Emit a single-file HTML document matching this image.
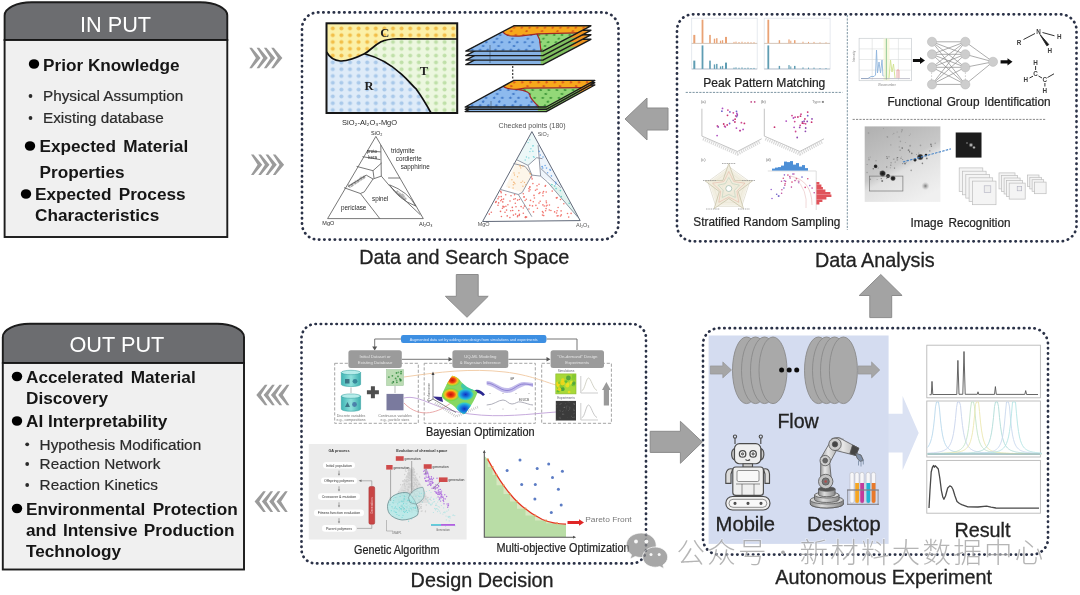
<!DOCTYPE html>
<html><head><meta charset="utf-8">
<style>
html,body{margin:0;padding:0;background:#fff;}
body{width:1080px;height:595px;overflow:hidden;font-family:"Liberation Sans",sans-serif;}
svg{display:block;font-family:"Liberation Sans",sans-serif;}
.b{font-weight:bold;fill:#141414;font-size:17.2px;}
.s{fill:#2a2a2a;font-size:15.3px;stroke:#2a2a2a;stroke-width:0.2px;}
.lab{fill:#222;font-size:19.8px;stroke:#222;stroke-width:0.3px;}
.sub{fill:#242424;font-size:12px;stroke:#242424;stroke-width:0.22px;}
.dot{fill:none;stroke:#2a3046;stroke-width:2.7;stroke-linecap:round;}
.ga{fill:#a3a3a3;stroke:#8c8c8c;stroke-width:1;}
</style></head><body>
<svg width="1080" height="595" viewBox="0 0 1080 595">
<defs>
<filter id="b3" x="-5%" y="-5%" width="110%" height="110%"><feGaussianBlur stdDeviation="0.35"/></filter>
<filter id="b6" x="-5%" y="-5%" width="110%" height="110%"><feGaussianBlur stdDeviation="0.7"/></filter>
<filter id="b9" x="-5%" y="-5%" width="110%" height="110%"><feGaussianBlur stdDeviation="0.9"/></filter>
</defs>
<rect width="1080" height="595" fill="#fff"/>
<g id="input" filter="url(#b3)">
<path d="M4.6,40 V15.5 A27,13.2 0 0 1 31.6,2.3 H200.3 A27,13.2 0 0 1 227.3,15.5 V40 Z" fill="#6c6d70" stroke="#1a1a1a" stroke-width="1.9"/>
<rect x="4.6" y="40" width="222.7" height="197" fill="#f0f0f0" stroke="#1a1a1a" stroke-width="1.9"/>
<text x="115.5" y="32.3" text-anchor="middle" font-size="21.7" fill="#fff">IN PUT</text>
<ellipse cx="34" cy="64" rx="5.2" ry="4.8" fill="#000"/>
<text class="b" x="43" y="70.6">Prior Knowledge</text>
<circle cx="30.5" cy="96" r="1.9" fill="#2a2a2a"/>
<text class="s" x="43" y="101.2">Physical Assumption</text>
<circle cx="30.5" cy="118" r="1.9" fill="#2a2a2a"/>
<text class="s" x="43" y="123.4">Existing database</text>
<ellipse cx="30" cy="146" rx="5.2" ry="4.8" fill="#000"/>
<text class="b" x="39.5" y="152.3" word-spacing="2.5">Expected Material</text>
<text class="b" x="39.5" y="177.5">Properties</text>
<ellipse cx="26" cy="194" rx="5.2" ry="4.8" fill="#000"/>
<text class="b" x="35" y="200.2" word-spacing="2.5">Expected Process</text>
<text class="b" x="35" y="220.8">Characteristics</text>
</g>
<g id="output" filter="url(#b3)">
<path d="M2.8,363 V337 A27,13.2 0 0 1 29.8,323.8 H217 A27,13.2 0 0 1 244,337 V363 Z" fill="#6c6d70" stroke="#1a1a1a" stroke-width="1.9"/>
<rect x="2.8" y="363" width="241.2" height="206.5" fill="#f0f0f0" stroke="#1a1a1a" stroke-width="1.9"/>
<text x="116.9" y="351.8" text-anchor="middle" font-size="21.7" fill="#fff">OUT PUT</text>
<ellipse cx="17" cy="376.5" rx="5.2" ry="4.8" fill="#000"/>
<text class="b" x="26" y="382.6" word-spacing="2.5">Accelerated Material</text>
<text class="b" x="26" y="403.8">Discovery</text>
<ellipse cx="17" cy="421" rx="5.2" ry="4.8" fill="#000"/>
<text class="b" x="26" y="427.2">AI Interpretability</text>
<circle cx="27.2" cy="444.3" r="1.9" fill="#2a2a2a"/>
<text class="s" x="39.6" y="449.5">Hypothesis Modification</text>
<circle cx="27.2" cy="464" r="1.9" fill="#2a2a2a"/>
<text class="s" x="39.6" y="469.2">Reaction Network</text>
<circle cx="27.2" cy="485" r="1.9" fill="#2a2a2a"/>
<text class="s" x="39.6" y="490.2">Reaction Kinetics</text>
<ellipse cx="17" cy="508.5" rx="5.2" ry="4.8" fill="#000"/>
<text class="b" x="26" y="514.6" word-spacing="2.5">Environmental Protection</text>
<text class="b" x="26" y="535.8" word-spacing="1.6">and Intensive Production</text>
<text class="b" x="26" y="557.2">Technology</text>
</g>
<g fill="#9b9b9b" filter="url(#b3)"><polygon points="249.3,47.7 251.9,47.7 260.5,58.0 251.9,68.3 249.3,68.3 255.9,58.0"/><polygon points="256.6,47.7 259.2,47.7 267.8,58.0 259.2,68.3 256.6,68.3 263.2,58.0"/><polygon points="263.9,47.7 266.5,47.7 275.1,58.0 266.5,68.3 263.9,68.3 270.5,58.0"/><polygon points="271.2,47.7 273.8,47.7 282.4,58.0 273.8,68.3 271.2,68.3 277.8,58.0"/></g><g fill="#9b9b9b" filter="url(#b3)"><polygon points="251.0,154.5 253.6,154.5 262.2,164.8 253.6,175.1 251.0,175.1 257.6,164.8"/><polygon points="258.3,154.5 260.9,154.5 269.5,164.8 260.9,175.1 258.3,175.1 264.9,164.8"/><polygon points="265.6,154.5 268.2,154.5 276.8,164.8 268.2,175.1 265.6,175.1 272.2,164.8"/><polygon points="272.9,154.5 275.5,154.5 284.1,164.8 275.5,175.1 272.9,175.1 279.5,164.8"/></g><g fill="#9b9b9b" filter="url(#b3)"><polygon points="264.9,384.7 267.5,384.7 260.9,395.0 267.5,405.3 264.9,405.3 256.3,395.0"/><polygon points="272.2,384.7 274.8,384.7 268.2,395.0 274.8,405.3 272.2,405.3 263.6,395.0"/><polygon points="279.5,384.7 282.1,384.7 275.5,395.0 282.1,405.3 279.5,405.3 270.9,395.0"/><polygon points="286.8,384.7 289.4,384.7 282.8,395.0 289.4,405.3 286.8,405.3 278.2,395.0"/></g><g fill="#9b9b9b" filter="url(#b3)"><polygon points="263.2,491.3 265.8,491.3 259.2,501.6 265.8,511.9 263.2,511.9 254.6,501.6"/><polygon points="270.5,491.3 273.1,491.3 266.5,501.6 273.1,511.9 270.5,511.9 261.9,501.6"/><polygon points="277.8,491.3 280.4,491.3 273.8,501.6 280.4,511.9 277.8,511.9 269.2,501.6"/><polygon points="285.1,491.3 287.7,491.3 281.1,501.6 287.7,511.9 285.1,511.9 276.5,501.6"/></g><rect class="dot" x="302" y="12.4" width="316.5" height="227.2" rx="16" pathLength="1000" filter="url(#b3)" style="stroke-dasharray:0.3300 4.6205"/>
<rect class="dot" x="677" y="14.3" width="399.5" height="227" rx="16" pathLength="1000" filter="url(#b3)" style="stroke-dasharray:0.2861 4.0057"/>
<rect class="dot" x="301.5" y="324" width="344.5" height="239.4" rx="14" pathLength="1000" filter="url(#b3)" style="stroke-dasharray:0.3058 4.2813"/>
<g class="ga" filter="url(#b3)">
<polygon points="625,119 647,98 647,108 668,108 668,130 647,130 647,140"/>
<polygon points="456.3,274.5 478.2,274.5 478.2,296.3 488.2,296.3 467,317.3 445.4,296.3 456.3,296.3"/>
<polygon points="650.2,431.3 680.4,431.3 680.4,421.3 702.3,442 680.4,463.3 680.4,452.4 650.2,452.4"/>
<polygon points="880.8,274.5 902.1,295.5 891.7,295.5 891.7,317.6 869.8,317.6 869.8,295.5 859.2,295.5"/>
</g>
<g filter="url(#b3)">
<text class="lab" x="359.3" y="263.5">Data and Search Space</text>
<text class="lab" x="814.9" y="267.4">Data Analysis</text>
<text class="lab" x="410.6" y="586.5">Design Decision</text>
</g>
<defs>
<pattern id="pdY" width="8.6" height="6.8" patternUnits="userSpaceOnUse" x="328.5" y="25"><rect width="8.6" height="6.8" fill="#fbf0a8"/><circle cx="4.3" cy="3.4" r="2" fill="#f2bf4a"/></pattern>
<pattern id="pdB" width="8.6" height="6.8" patternUnits="userSpaceOnUse" x="328.5" y="25"><rect width="8.6" height="6.8" fill="#deebf8"/><circle cx="4.3" cy="3.4" r="2" fill="#a9c9ea"/></pattern>
<pattern id="pdG" width="8.6" height="6.8" patternUnits="userSpaceOnUse" x="328.5" y="25"><rect width="8.6" height="6.8" fill="#ecf7df"/><circle cx="4.3" cy="3.4" r="2" fill="#bfe0a8"/></pattern>
<pattern id="lyB" width="20" height="29" patternUnits="userSpaceOnUse"><rect width="20" height="29" fill="#8dbaee"/><circle r="1.15" transform="matrix(1.297,0,2.461,3.953,5,7.2)" fill="#3f78c8"/><circle r="1.15" transform="matrix(1.297,0,2.461,3.953,15,7.2)" fill="#3f78c8"/><circle r="1.15" transform="matrix(1.297,0,2.461,3.953,10,21.7)" fill="#3f78c8"/></pattern>
<pattern id="lyG" width="20" height="29" patternUnits="userSpaceOnUse"><rect width="20" height="29" fill="#93d878"/><circle r="1.1" transform="matrix(1.297,0,2.461,3.953,5,7.2)" fill="#3a9436"/><circle r="1.1" transform="matrix(1.297,0,2.461,3.953,15,7.2)" fill="#3a9436"/><circle r="1.1" transform="matrix(1.297,0,2.461,3.953,10,21.7)" fill="#3a9436"/></pattern>
<pattern id="lyO" width="20" height="29" patternUnits="userSpaceOnUse"><rect width="20" height="29" fill="#f7a81c"/><circle r="1.1" transform="matrix(1.297,0,2.461,3.953,5,7.2)" fill="#d9541a"/><circle r="1.1" transform="matrix(1.297,0,2.461,3.953,15,7.2)" fill="#d9541a"/><circle r="1.1" transform="matrix(1.297,0,2.461,3.953,10,21.7)" fill="#d9541a"/></pattern>
<clipPath id="cY"><path d="M0,0 H100 V17.5 L54.5,17.2 C46,17.5 44,19 41.7,20.6 C36,25 33,31 29,34 C22,39 15,42.5 10.5,42 C5,41.5 2,37 0,32 Z" transform="translate(326.5,23.3) scale(1.307,0.897)"/></clipPath><clipPath id="cB"><path d="M0,32 C2,37 5,41.5 10.5,42 C15,42.5 22,39 29,34 C40,38 50,47 57.3,56.7 C63,64 66,70 68.6,73.2 C73,82 77,92 80,100 H0 Z" transform="translate(326.5,23.3) scale(1.307,0.897)"/></clipPath></defs>
<g filter="url(#b6)"><rect x="326.5" y="23.3" width="130.7" height="89.7" fill="url(#pdG)"/><rect x="326.5" y="23.3" width="130.7" height="89.7" fill="url(#pdY)" clip-path="url(#cY)"/><rect x="326.5" y="23.3" width="130.7" height="89.7" fill="url(#pdB)" clip-path="url(#cB)"/><g transform="translate(326.5,23.3) scale(1.307,0.897)" fill="none" stroke="#111" stroke-linejoin="round"><path d="M0,32 C2,37 5,41.5 10.5,42 C15,42.5 22,39 29,34 C33,31 36,25 41.7,20.6 C44,19 46,17.5 54.5,17.2 L100,17.5" stroke-width="1.7" vector-effect="non-scaling-stroke"/><path d="M29,34 C40,38 50,47 57.3,56.7 C63,64 66,70 68.6,73.2 C73,82 77,92 80,100" stroke-width="1.7" vector-effect="non-scaling-stroke"/></g><rect x="326.5" y="23.3" width="130.7" height="89.7" fill="none" stroke="#151515" stroke-width="2"/><g font-family="Liberation Serif,serif" font-weight="bold" font-size="12.5" fill="#222" text-anchor="middle"><text x="384.7" y="37.2">C</text><text x="424" y="74.8">T</text><text x="369" y="89.6">R</text></g></g>
<g filter="url(#b6)"><g transform="matrix(0.7710,0,-0.4800,0.2530,513.80,39.30)"><rect width="100" height="100" fill="#7fbf5e"/><path d="M0,0 H100 V28 L50,32 C42,36 36,41 29.7,41 C24,41 19,40 16.4,38.5 C10,34 4,28 0,23 Z" fill="#ee9420"/><path d="M0,23 C4,28 10,34 16.4,38.5 C19,40 24,41 29.7,41 C36,41 42,36 50,32 L67,54 L97.5,100 H0 Z" fill="#86b2e4"/><rect width="100" height="100" fill="none" stroke="#1a1a1a" stroke-width="1.4" vector-effect="non-scaling-stroke" stroke-linejoin="round"/></g><g transform="matrix(0.7710,0,-0.4800,0.2530,513.80,34.80)"><rect width="100" height="100" fill="#7fbf5e"/><path d="M0,0 H100 V28 L50,32 C42,36 36,41 29.7,41 C24,41 19,40 16.4,38.5 C10,34 4,28 0,23 Z" fill="#ee9420"/><path d="M0,23 C4,28 10,34 16.4,38.5 C19,40 24,41 29.7,41 C36,41 42,36 50,32 L67,54 L97.5,100 H0 Z" fill="#86b2e4"/><rect width="100" height="100" fill="none" stroke="#1a1a1a" stroke-width="1.4" vector-effect="non-scaling-stroke" stroke-linejoin="round"/></g><g transform="matrix(0.7710,0,-0.4800,0.2530,513.80,30.30)"><rect width="100" height="100" fill="#7fbf5e"/><path d="M0,0 H100 V28 L50,32 C42,36 36,41 29.7,41 C24,41 19,40 16.4,38.5 C10,34 4,28 0,23 Z" fill="#ee9420"/><path d="M0,23 C4,28 10,34 16.4,38.5 C19,40 24,41 29.7,41 C36,41 42,36 50,32 L67,54 L97.5,100 H0 Z" fill="#86b2e4"/><rect width="100" height="100" fill="none" stroke="#1a1a1a" stroke-width="1.4" vector-effect="non-scaling-stroke" stroke-linejoin="round"/></g><g transform="matrix(0.7710,0,-0.4800,0.2530,513.80,25.80)"><rect width="100" height="100" fill="url(#lyG)"/><path d="M0,0 H100 V28 L50,32 C42,36 36,41 29.7,41 C24,41 19,40 16.4,38.5 C10,34 4,28 0,23 Z" fill="url(#lyO)"/><path d="M0,23 C4,28 10,34 16.4,38.5 C19,40 24,41 29.7,41 C36,41 42,36 50,32 L67,54 L97.5,100 H0 Z" fill="url(#lyB)"/><path d="M0,23 C4,28 10,34 16.4,38.5 C19,40 24,41 29.7,41 C36,41 42,36 50,32 L67,54 L97.5,100 M50,32 L100,28" fill="none" stroke="#a02828" stroke-width="1.2" vector-effect="non-scaling-stroke"/><rect width="100" height="100" fill="none" stroke="#1a1a1a" stroke-width="1.4" vector-effect="non-scaling-stroke" stroke-linejoin="round"/></g><line x1="512.7" y1="66" x2="512.7" y2="80" stroke="#333" stroke-width="1.2" stroke-dasharray="2 1.5"/><g transform="matrix(0.8100,0,-0.4860,0.2660,513.80,85.00)"><rect width="100" height="100" fill="#7fbf5e"/><path d="M0,0 H100 V27 L31,29 C28,31 26,33 24.4,34 C16,34 8,30 0,22 Z" fill="#ee9420"/><path d="M0,22 C8,30 16,34 24.4,34 C38,38 50,48 55,58.5 C65,72 80,88 91,100 H0 Z" fill="#86b2e4"/><rect width="100" height="100" fill="none" stroke="#1a1a1a" stroke-width="1.4" vector-effect="non-scaling-stroke" stroke-linejoin="round"/></g><g transform="matrix(0.8100,0,-0.4860,0.2660,513.80,82.70)"><rect width="100" height="100" fill="#7fbf5e"/><path d="M0,0 H100 V27 L31,29 C28,31 26,33 24.4,34 C16,34 8,30 0,22 Z" fill="#ee9420"/><path d="M0,22 C8,30 16,34 24.4,34 C38,38 50,48 55,58.5 C65,72 80,88 91,100 H0 Z" fill="#86b2e4"/><rect width="100" height="100" fill="none" stroke="#1a1a1a" stroke-width="1.4" vector-effect="non-scaling-stroke" stroke-linejoin="round"/></g><g transform="matrix(0.8100,0,-0.4860,0.2660,513.80,80.40)"><rect width="100" height="100" fill="url(#lyG)"/><path d="M0,0 H100 V27 L31,29 C28,31 26,33 24.4,34 C16,34 8,30 0,22 Z" fill="url(#lyO)"/><path d="M0,22 C8,30 16,34 24.4,34 C38,38 50,48 55,58.5 C65,72 80,88 91,100 H0 Z" fill="url(#lyB)"/><path d="M0,22 C8,30 16,34 24.4,34 C38,38 50,48 55,58.5 C65,72 80,88 91,100 M24.4,34 L31,29 L100,27" fill="none" stroke="#a02828" stroke-width="1.2" vector-effect="non-scaling-stroke"/><rect width="100" height="100" fill="none" stroke="#1a1a1a" stroke-width="1.4" vector-effect="non-scaling-stroke" stroke-linejoin="round"/></g><path d="M490,45 V63 M491,101 V110" stroke="#234" stroke-width="0.8" opacity="0.6"/></g>
<g filter="url(#b6)" fill="none" stroke="#555" stroke-width="0.8"><path d="M375.9,136.4 L327.6,218.6 L423.3,218.6 Z"/><path d="M344.0,187.7 L360.4,193.5 L379.8,218.6"/><path d="M360.4,193.5 L364.3,191.9 L373.0,179.0 L366.2,175.1 L347.9,186.7"/><path d="M356.6,166.4 L373.0,170.7 L381.7,162.9"/><path d="M362.4,156.7 L380.4,159.6"/><path d="M380.8,145.1 L381.3,176.1"/><path d="M373.0,179.0 L381.3,176.1 L389.5,185.8 L420.4,214.8"/><path d="M388.1,178.0 L400.1,178.0"/><path d="M373.0,170.7 L374.0,178.0"/><path d="M367.2,150.9 L380.8,151.9"/><path d="M389.5,184.8 Q407.8,191.6 415.9,206.1 Q398.2,199.3 389.5,184.8"/></g><g filter="url(#b6)" font-size="6.3" fill="#2a2a2a"><text x="342.1" y="125.4" font-size="7.3" textLength="55.0" lengthAdjust="spacingAndGlyphs" text-anchor="start">SiO₂-Al₂O₃-MgO</text><text x="371.1" y="135.1" font-size="5.5" text-anchor="start">SiO₂</text><text x="391.0" y="153.3" text-anchor="start">tridymite</text><text x="395.8" y="161.0" text-anchor="start">cordierite</text><text x="400.7" y="168.7" text-anchor="start">sapphirine</text><text x="372.0" y="200.6" text-anchor="start">spinel</text><text x="341.1" y="209.9" text-anchor="start">periclase</text><text x="366.8" y="152.5" font-size="4.5" text-anchor="start">proto</text><text x="368.2" y="158.7" font-size="4.5" text-anchor="start">kera</text><text x="322.3" y="225.4" font-size="5.5" text-anchor="start">MgO</text><text x="419.0" y="226.0" font-size="5.5" text-anchor="start">Al₂O₃</text></g>
<text transform="translate(349.8,188.1) rotate(-33)" font-size="5" fill="#444" filter="url(#b6)">forsterite</text><text transform="translate(395.3,192.5) rotate(40)" font-size="4.5" fill="#555" filter="url(#b6)">mullite</text><g filter="url(#b6)"><path d="M531.9,131.6 L516.4,159.6 L528.0,165.4 L536.7,157.7 L538.1,145.1 Z" fill="#ecf8f8"/><path d="M531.9,131.6 L538.1,145.1 L540.6,176.1 L560.9,187.7 L580.2,220.6 Z" fill="#eef4fb"/><path d="M547.4,181.9 L560.9,187.7 L580.2,220.6 L570.6,209.0 Z" fill="#e0f3ef"/><path d="M516.4,161.6 L528.0,167.4 L531.9,175.1 L522.2,192.5 L505.8,186.7 Z" fill="#fdf6ea"/><g fill="none" stroke="#7a8090" stroke-width="0.8"><path d="M531.9,131.6 L482.6,221.5 L580.2,220.6 Z" stroke="#606878" stroke-width="1"/><path d="M500.9,189.6 L518.3,194.5 L531.9,216.7"/><path d="M518.3,194.5 L522.2,192.5 L531.9,175.1 L525.1,166.4 L513.5,163.5"/><path d="M516.4,159.6 L528.0,165.4 L536.7,157.7 L542.5,158.7"/><path d="M538.1,145.1 L540.6,176.1"/><path d="M531.9,175.1 L540.6,176.1 L547.4,181.9 L578.3,217.7"/><path d="M528.0,165.4 L531.9,175.1"/><path d="M540.6,168.3 L560.9,187.7"/></g><g fill="#e8403a" opacity="0.75"><circle cx="498.0" cy="205.3" r="0.8"/><circle cx="503.9" cy="206.9" r="0.8"/><circle cx="498.9" cy="196.9" r="0.8"/><circle cx="515.6" cy="214.1" r="0.8"/><circle cx="510.7" cy="210.7" r="0.8"/><circle cx="521.1" cy="206.6" r="0.8"/><circle cx="500.8" cy="191.4" r="0.8"/><circle cx="519.4" cy="214.4" r="0.8"/><circle cx="519.2" cy="215.5" r="0.8"/><circle cx="505.0" cy="212.3" r="0.8"/><circle cx="507.2" cy="215.9" r="0.8"/><circle cx="515.3" cy="198.7" r="0.8"/><circle cx="510.0" cy="201.0" r="0.8"/><circle cx="503.0" cy="206.4" r="0.8"/><circle cx="513.4" cy="215.1" r="0.8"/><circle cx="517.7" cy="215.7" r="0.8"/><circle cx="525.5" cy="217.4" r="0.8"/><circle cx="525.7" cy="216.7" r="0.8"/><circle cx="524.4" cy="206.1" r="0.8"/><circle cx="525.4" cy="217.4" r="0.8"/><circle cx="491.3" cy="212.3" r="0.8"/><circle cx="505.7" cy="194.7" r="0.8"/><circle cx="500.5" cy="211.4" r="0.8"/><circle cx="519.4" cy="199.5" r="0.8"/><circle cx="526.6" cy="217.1" r="0.8"/><circle cx="509.9" cy="217.6" r="0.8"/><circle cx="501.2" cy="192.7" r="0.8"/><circle cx="496.2" cy="201.6" r="0.8"/><circle cx="514.6" cy="194.8" r="0.8"/><circle cx="489.3" cy="214.1" r="0.8"/><circle cx="501.4" cy="216.5" r="0.8"/><circle cx="507.9" cy="204.7" r="0.8"/><circle cx="516.0" cy="206.7" r="0.8"/><circle cx="512.3" cy="207.4" r="0.8"/><circle cx="506.6" cy="210.1" r="0.8"/><circle cx="498.0" cy="198.7" r="0.8"/><circle cx="505.9" cy="206.3" r="0.8"/><circle cx="515.3" cy="203.2" r="0.8"/><circle cx="517.6" cy="200.1" r="0.8"/><circle cx="518.8" cy="210.6" r="0.8"/><circle cx="517.5" cy="216.7" r="0.8"/><circle cx="498.6" cy="202.9" r="0.8"/><circle cx="513.8" cy="199.3" r="0.8"/><circle cx="503.6" cy="199.1" r="0.8"/><circle cx="503.8" cy="206.7" r="0.8"/><circle cx="500.8" cy="200.8" r="0.8"/><circle cx="512.7" cy="210.5" r="0.8"/><circle cx="501.2" cy="196.6" r="0.8"/><circle cx="495.7" cy="202.4" r="0.8"/><circle cx="501.7" cy="199.6" r="0.8"/><circle cx="502.4" cy="208.2" r="0.8"/><circle cx="511.0" cy="195.8" r="0.8"/><circle cx="523.3" cy="213.3" r="0.8"/><circle cx="523.3" cy="208.0" r="0.8"/><circle cx="502.8" cy="201.9" r="0.8"/></g><g fill="#ee4a40" opacity="0.75"><circle cx="542.9" cy="193.1" r="0.8"/><circle cx="568.7" cy="217.1" r="0.8"/><circle cx="543.7" cy="215.6" r="0.8"/><circle cx="561.1" cy="210.9" r="0.8"/><circle cx="556.5" cy="197.7" r="0.8"/><circle cx="535.5" cy="190.3" r="0.8"/><circle cx="532.1" cy="178.9" r="0.8"/><circle cx="571.1" cy="213.4" r="0.8"/><circle cx="528.9" cy="188.6" r="0.8"/><circle cx="556.5" cy="197.9" r="0.8"/><circle cx="542.5" cy="215.1" r="0.8"/><circle cx="533.5" cy="211.9" r="0.8"/><circle cx="546.1" cy="208.6" r="0.8"/><circle cx="539.0" cy="184.3" r="0.8"/><circle cx="549.3" cy="210.0" r="0.8"/><circle cx="528.9" cy="209.0" r="0.8"/><circle cx="554.6" cy="211.9" r="0.8"/><circle cx="534.4" cy="198.0" r="0.8"/><circle cx="543.0" cy="195.7" r="0.8"/><circle cx="524.1" cy="197.0" r="0.8"/><circle cx="537.0" cy="189.2" r="0.8"/><circle cx="539.0" cy="203.0" r="0.8"/><circle cx="552.2" cy="191.1" r="0.8"/><circle cx="530.0" cy="189.8" r="0.8"/><circle cx="526.3" cy="199.2" r="0.8"/><circle cx="540.2" cy="201.2" r="0.8"/><circle cx="543.5" cy="191.6" r="0.8"/><circle cx="547.1" cy="205.3" r="0.8"/><circle cx="542.9" cy="204.9" r="0.8"/><circle cx="545.2" cy="186.3" r="0.8"/><circle cx="549.4" cy="205.0" r="0.8"/><circle cx="523.3" cy="193.7" r="0.8"/><circle cx="543.2" cy="212.7" r="0.8"/><circle cx="534.0" cy="195.4" r="0.8"/><circle cx="556.5" cy="213.0" r="0.8"/><circle cx="563.8" cy="203.8" r="0.8"/><circle cx="560.5" cy="199.5" r="0.8"/><circle cx="525.1" cy="200.5" r="0.8"/><circle cx="557.1" cy="210.8" r="0.8"/><circle cx="561.3" cy="214.9" r="0.8"/><circle cx="550.9" cy="210.5" r="0.8"/><circle cx="532.9" cy="183.6" r="0.8"/><circle cx="533.3" cy="201.7" r="0.8"/><circle cx="539.9" cy="192.6" r="0.8"/><circle cx="539.0" cy="193.5" r="0.8"/><circle cx="524.0" cy="196.9" r="0.8"/><circle cx="558.1" cy="207.5" r="0.8"/><circle cx="557.1" cy="197.6" r="0.8"/><circle cx="546.4" cy="202.8" r="0.8"/><circle cx="544.2" cy="206.0" r="0.8"/><circle cx="529.8" cy="187.2" r="0.8"/><circle cx="530.5" cy="200.4" r="0.8"/><circle cx="537.0" cy="185.7" r="0.8"/><circle cx="558.1" cy="215.7" r="0.8"/><circle cx="535.9" cy="205.4" r="0.8"/><circle cx="542.5" cy="211.6" r="0.8"/><circle cx="531.5" cy="177.0" r="0.8"/><circle cx="546.2" cy="192.0" r="0.8"/><circle cx="529.0" cy="191.1" r="0.8"/><circle cx="537.4" cy="208.3" r="0.8"/><circle cx="546.2" cy="201.0" r="0.8"/><circle cx="545.6" cy="210.8" r="0.8"/><circle cx="546.3" cy="206.0" r="0.8"/><circle cx="560.5" cy="216.0" r="0.8"/><circle cx="545.5" cy="185.6" r="0.8"/><circle cx="532.5" cy="205.9" r="0.8"/><circle cx="557.2" cy="215.9" r="0.8"/><circle cx="529.9" cy="186.8" r="0.8"/><circle cx="529.8" cy="205.4" r="0.8"/><circle cx="567.5" cy="213.5" r="0.8"/></g><g fill="#f0a050" opacity="0.70"><circle cx="513.1" cy="188.0" r="0.7"/><circle cx="514.5" cy="175.0" r="0.7"/><circle cx="509.0" cy="187.1" r="0.7"/><circle cx="514.0" cy="173.0" r="0.7"/><circle cx="521.1" cy="182.4" r="0.7"/><circle cx="517.5" cy="176.8" r="0.7"/><circle cx="511.9" cy="179.7" r="0.7"/><circle cx="530.4" cy="174.0" r="0.7"/><circle cx="520.2" cy="166.0" r="0.7"/><circle cx="513.5" cy="182.1" r="0.7"/><circle cx="530.0" cy="173.5" r="0.7"/><circle cx="525.9" cy="184.8" r="0.7"/><circle cx="514.1" cy="182.4" r="0.7"/><circle cx="522.9" cy="186.2" r="0.7"/><circle cx="513.3" cy="184.7" r="0.7"/><circle cx="520.0" cy="165.9" r="0.7"/><circle cx="519.0" cy="172.9" r="0.7"/><circle cx="524.5" cy="182.5" r="0.7"/><circle cx="520.8" cy="167.9" r="0.7"/><circle cx="522.7" cy="181.1" r="0.7"/><circle cx="523.0" cy="166.2" r="0.7"/><circle cx="514.9" cy="183.7" r="0.7"/></g><g fill="#50c8d0" opacity="0.70"><circle cx="529.9" cy="151.6" r="0.7"/><circle cx="530.9" cy="148.7" r="0.7"/><circle cx="532.9" cy="151.2" r="0.7"/><circle cx="532.7" cy="145.9" r="0.7"/><circle cx="528.1" cy="142.6" r="0.7"/><circle cx="533.2" cy="145.7" r="0.7"/><circle cx="528.8" cy="157.9" r="0.7"/><circle cx="525.2" cy="160.0" r="0.7"/><circle cx="533.4" cy="156.6" r="0.7"/><circle cx="526.4" cy="157.0" r="0.7"/><circle cx="534.1" cy="157.2" r="0.7"/><circle cx="529.8" cy="139.7" r="0.7"/></g><g fill="#4a90e0" opacity="0.75"><circle cx="549.9" cy="169.6" r="0.8"/><circle cx="543.0" cy="157.0" r="0.8"/><circle cx="555.7" cy="182.4" r="0.8"/><circle cx="550.4" cy="170.2" r="0.8"/><circle cx="551.4" cy="175.9" r="0.8"/><circle cx="542.8" cy="168.1" r="0.8"/><circle cx="555.8" cy="184.0" r="0.8"/><circle cx="540.3" cy="155.0" r="0.8"/><circle cx="542.1" cy="166.8" r="0.8"/><circle cx="547.6" cy="172.8" r="0.8"/><circle cx="545.1" cy="165.5" r="0.8"/><circle cx="546.5" cy="168.1" r="0.8"/><circle cx="539.2" cy="151.4" r="0.8"/><circle cx="542.2" cy="166.5" r="0.8"/></g><g fill="#50c8c0" opacity="0.85"><circle cx="561.3" cy="196.6" r="0.8"/><circle cx="554.7" cy="186.0" r="0.8"/><circle cx="551.9" cy="184.6" r="0.8"/><circle cx="560.4" cy="190.6" r="0.8"/><circle cx="556.1" cy="188.6" r="0.8"/><circle cx="569.2" cy="203.3" r="0.8"/></g><g font-size="5.5" fill="#555"><text x="498.6" y="127.7" font-size="6.8" textLength="67.0" lengthAdjust="spacingAndGlyphs" text-anchor="start">Checked points (180)</text><text x="537.7" y="135.5" text-anchor="start">SiO₂</text><text x="477.7" y="226.0" text-anchor="start">MgO</text><text x="576.0" y="227.3" text-anchor="start">Al₂O₃</text></g></g>
<g filter="url(#b6)"><rect x="691.7" y="18.2" width="65.5" height="50.7" fill="#fff" stroke="#dfe4ec" stroke-width="0.8"/><line x1="691.7" y1="43.4" x2="757.2" y2="43.4" stroke="#c9b8a8" stroke-width="0.8"/><line x1="691.7" y1="69" x2="757.2" y2="69" stroke="#aab8c4" stroke-width="0.8"/><g fill="#e9a274"><rect x="693.3" y="34.9" width="2.0" height="8.3"/><rect x="701.6" y="19.7" width="1.8" height="23.5"/><rect x="709.2" y="34.9" width="1.6" height="8.3"/><rect x="713.8" y="38.7" width="1.4" height="4.5"/><rect x="716.1" y="38.2" width="1.4" height="5.0"/><rect x="719.9" y="40.7" width="1.3" height="2.5"/><rect x="721.9" y="40.2" width="1.3" height="3.0"/><rect x="725.0" y="36.9" width="2.0" height="6.3"/><rect x="733.5" y="41.9" width="1.0" height="1.3"/><rect x="735.5" y="41.6" width="1.0" height="1.6"/><rect x="738.5" y="42.0" width="1.0" height="1.2"/><rect x="741.5" y="41.7" width="1.0" height="1.5"/><rect x="744.5" y="42.2" width="1.0" height="1.0"/><rect x="747.5" y="41.9" width="1.0" height="1.3"/><rect x="750.5" y="42.3" width="1.0" height="0.9"/><rect x="753.5" y="42.2" width="1.0" height="1.0"/></g><g fill="#5f9db3"><rect x="693.3" y="60.6" width="2.0" height="8.3"/><rect x="701.6" y="45.4" width="1.8" height="23.5"/><rect x="709.2" y="60.6" width="1.6" height="8.3"/><rect x="713.8" y="64.4" width="1.4" height="4.5"/><rect x="716.1" y="63.9" width="1.4" height="5.0"/><rect x="719.9" y="66.4" width="1.3" height="2.5"/><rect x="721.9" y="65.9" width="1.3" height="3.0"/><rect x="725.0" y="62.6" width="2.0" height="6.3"/><rect x="733.5" y="67.6" width="1.0" height="1.3"/><rect x="735.5" y="67.3" width="1.0" height="1.6"/><rect x="738.5" y="67.7" width="1.0" height="1.2"/><rect x="741.5" y="67.4" width="1.0" height="1.5"/><rect x="744.5" y="67.9" width="1.0" height="1.0"/><rect x="747.5" y="67.6" width="1.0" height="1.3"/><rect x="750.5" y="68.0" width="1.0" height="0.9"/><rect x="753.5" y="67.9" width="1.0" height="1.0"/></g><rect x="764.2" y="18.2" width="65.9" height="50.7" fill="#fff" stroke="#dfe4ec" stroke-width="0.8"/><line x1="764.2" y1="43.4" x2="830.1" y2="43.4" stroke="#c9b8a8" stroke-width="0.8"/><line x1="764.2" y1="69" x2="830.1" y2="69" stroke="#aab8c4" stroke-width="0.8"/><g fill="#e9a274"><rect x="767.4" y="19.7" width="1.8" height="23.5"/><rect x="778.7" y="40.2" width="1.4" height="3.0"/><rect x="788.4" y="39.4" width="1.2" height="3.8"/><rect x="790.3" y="40.7" width="1.0" height="2.5"/><rect x="794.0" y="40.2" width="1.5" height="3.0"/><rect x="802.5" y="41.7" width="1.0" height="1.5"/><rect x="808.0" y="41.9" width="1.0" height="1.3"/><rect x="813.5" y="41.9" width="1.0" height="1.3"/><rect x="819.5" y="42.4" width="1.0" height="0.8"/><rect x="825.5" y="42.4" width="1.0" height="0.8"/></g><g fill="#5f9db3"><rect x="767.4" y="45.4" width="1.8" height="23.5"/><rect x="778.7" y="65.9" width="1.4" height="3.0"/><rect x="788.4" y="65.1" width="1.2" height="3.8"/><rect x="790.3" y="66.4" width="1.0" height="2.5"/><rect x="794.0" y="65.9" width="1.5" height="3.0"/><rect x="802.5" y="67.4" width="1.0" height="1.5"/><rect x="808.0" y="67.6" width="1.0" height="1.3"/><rect x="813.5" y="67.6" width="1.0" height="1.3"/><rect x="819.5" y="68.1" width="1.0" height="0.8"/><rect x="825.5" y="68.1" width="1.0" height="0.8"/></g></g><text class="sub" x="703.3" y="87" filter="url(#b3)" textLength="122" lengthAdjust="spacingAndGlyphs">Peak Pattern Matching</text><g stroke="#7c94a2" stroke-width="1" stroke-dasharray="2.2 1.2" filter="url(#b3)"><line x1="685.7" y1="92.4" x2="842.5" y2="92.4"/><line x1="847.3" y1="15" x2="847.3" y2="230"/><line x1="852.6" y1="119.4" x2="1045.2" y2="119.4" stroke="#8a8a8a"/></g>
<g filter="url(#b6)"><g fill="none" stroke="#b4b4b4" stroke-width="0.8"><path d="M701.9,108.7 L701.9,136.1 L737.4,151.5 L761.6,138.8"/><path d="M703.0,138.8 L737.4,153.9 L760.6,141.5" stroke-width="3.4" stroke="#d9d9d9" stroke-dasharray="1.2 1"/></g><circle cx="723.7" cy="124.0" r="0.9" fill="#c83070"/><circle cx="717.4" cy="125.9" r="0.9" fill="#d04890"/><circle cx="740.2" cy="130.6" r="0.9" fill="#9048b0"/><circle cx="736.7" cy="116.6" r="0.9" fill="#7060c8"/><circle cx="743.1" cy="129.4" r="0.9" fill="#b050c0"/><circle cx="727.5" cy="115.3" r="0.9" fill="#c83070"/><circle cx="727.9" cy="110.1" r="0.9" fill="#d04890"/><circle cx="722.5" cy="108.4" r="0.9" fill="#b050c0"/><circle cx="741.4" cy="122.7" r="0.9" fill="#d04890"/><circle cx="721.9" cy="111.2" r="0.9" fill="#7060c8"/><circle cx="718.2" cy="126.9" r="0.9" fill="#9048b0"/><circle cx="736.4" cy="128.1" r="0.9" fill="#b050c0"/><circle cx="729.9" cy="111.9" r="0.9" fill="#7060c8"/><circle cx="725.3" cy="126.9" r="0.9" fill="#b050c0"/><circle cx="733.3" cy="112.8" r="0.9" fill="#d04890"/><circle cx="733.2" cy="120.3" r="0.9" fill="#9048b0"/><circle cx="736.5" cy="111.3" r="0.9" fill="#7060c8"/><circle cx="717.1" cy="135.6" r="0.9" fill="#b050c0"/><circle cx="744.4" cy="123.4" r="0.9" fill="#c83070"/><circle cx="724.6" cy="126.2" r="0.9" fill="#d04890"/><circle cx="736.9" cy="113.4" r="0.9" fill="#b050c0"/><circle cx="734.9" cy="122.0" r="0.9" fill="#c83070"/><circle cx="735.8" cy="115.9" r="0.9" fill="#d04890"/><circle cx="735.1" cy="119.2" r="0.9" fill="#c83070"/><circle cx="737.3" cy="115.0" r="0.9" fill="#9048b0"/><circle cx="739.9" cy="130.6" r="0.9" fill="#d04890"/><circle cx="727.2" cy="124.9" r="0.9" fill="#c83070"/><circle cx="729.6" cy="123.5" r="0.9" fill="#7060c8"/><g fill="none" stroke="#b4b4b4" stroke-width="0.8"><path d="M764.3,108.7 L764.3,136.1 L799.8,151.5 L824.0,138.8"/><path d="M765.4,138.8 L799.8,153.9 L823.0,141.5" stroke-width="3.4" stroke="#d9d9d9" stroke-dasharray="1.2 1"/></g><circle cx="804.1" cy="121.2" r="0.9" fill="#9048b0"/><circle cx="795.1" cy="117.2" r="0.9" fill="#d04890"/><circle cx="799.7" cy="127.4" r="0.9" fill="#9048b0"/><circle cx="794.1" cy="127.3" r="0.9" fill="#b050c0"/><circle cx="803.9" cy="123.3" r="0.9" fill="#d04890"/><circle cx="807.2" cy="121.4" r="0.9" fill="#9048b0"/><circle cx="774.5" cy="127.2" r="0.9" fill="#c83070"/><circle cx="800.5" cy="116.2" r="0.9" fill="#c83070"/><circle cx="800.2" cy="125.3" r="0.9" fill="#d04890"/><circle cx="801.0" cy="114.2" r="0.9" fill="#d04890"/><circle cx="805.4" cy="131.3" r="0.9" fill="#9048b0"/><circle cx="807.7" cy="112.1" r="0.9" fill="#c83070"/><circle cx="802.4" cy="121.8" r="0.9" fill="#9048b0"/><circle cx="804.9" cy="118.9" r="0.9" fill="#c83070"/><circle cx="797.2" cy="137.5" r="0.9" fill="#9048b0"/><circle cx="786.2" cy="121.1" r="0.9" fill="#b050c0"/><circle cx="805.7" cy="128.0" r="0.9" fill="#9048b0"/><circle cx="792.0" cy="115.6" r="0.9" fill="#d04890"/><circle cx="797.9" cy="117.0" r="0.9" fill="#c83070"/><circle cx="794.7" cy="121.6" r="0.9" fill="#d04890"/><circle cx="795.6" cy="131.5" r="0.9" fill="#d04890"/><circle cx="802.4" cy="123.2" r="0.9" fill="#c83070"/><circle cx="812.0" cy="118.9" r="0.9" fill="#9048b0"/><circle cx="793.4" cy="118.0" r="0.9" fill="#b050c0"/><circle cx="807.7" cy="115.7" r="0.9" fill="#7060c8"/><circle cx="811.6" cy="122.2" r="0.9" fill="#c83070"/><circle cx="805.6" cy="123.8" r="0.9" fill="#d04890"/><g font-size="4" fill="#666"><text x="701" y="103">(a)</text><text x="761" y="103">(b)</text><text x="701" y="161">(c)</text><text x="766" y="161">(d)</text><text x="750" y="103" fill="#c04080">● ●</text><text x="812" y="103" fill="#888">Type ■</text></g><g fill="none"><path d="M728.8,166.5 L749.7,181.7 L741.7,206.3 L715.9,206.3 L707.9,181.7 Z" stroke="#d8d4c4" stroke-width="0.7"/><path d="M728.8,171.5 L745.0,183.2 L738.8,202.3 L718.8,202.3 L712.6,183.2 Z" stroke="#dcd8c8" stroke-width="0.7"/><path d="M728.8,176.5 L740.2,184.8 L735.9,198.2 L721.7,198.2 L717.4,184.8 Z" stroke="#d8d8cc" stroke-width="0.7"/><path d="M728.8,181.5 L735.5,186.3 L732.9,194.2 L724.7,194.2 L722.1,186.3 Z" stroke="#cfd8cf" stroke-width="0.7"/><path d="M728.8,167.5 L748.8,182.0 L741.1,205.5 L716.5,205.5 L708.8,182.0 Z" stroke="none" fill="#eee9d8" fill-opacity="0.75"/><path d="M728.8,163.5 L734.7,180.4 L752.6,180.8 L738.3,191.6 L743.5,208.7 L728.8,198.5 L714.1,208.7 L719.3,191.6 L705.0,180.8 L722.9,180.4 Z" stroke="#c4bea4" stroke-width="0.7" fill="#efe9d6" fill-opacity="0.5"/><path d="M728.8,171.5 L733.8,181.6 L745.0,183.2 L736.9,191.1 L738.8,202.3 L728.8,197.0 L718.8,202.3 L720.7,191.1 L712.6,183.2 L723.8,181.6 Z" stroke="#e6b8a8" stroke-width="0.6"/><path d="M728.8,177.5 L732.3,183.6 L739.3,185.1 L734.5,190.4 L735.3,197.4 L728.8,194.5 L722.3,197.4 L723.1,190.4 L718.3,185.1 L725.3,183.6 Z" stroke="#b8d0bc" stroke-width="0.6"/><circle cx="728.8" cy="188.5" r="3" stroke="#9ab8a8" stroke-width="0.7" fill="#fff"/></g><g stroke="#999" stroke-width="0.8"><line x1="703.0" y1="180.5" x2="716.0" y2="180.5" stroke-dasharray="1.5 0.8"/><line x1="742.0" y1="180.5" x2="755.0" y2="180.5" stroke-dasharray="1.5 0.8"/><line x1="706.0" y1="209.0" x2="720.0" y2="209.0" stroke-dasharray="1.5 0.8"/><line x1="738.0" y1="209.0" x2="750.0" y2="209.0" stroke-dasharray="1.5 0.8"/><line x1="722.0" y1="163.5" x2="736.0" y2="163.5" stroke-dasharray="1.5 0.8"/></g><path d="M767.8,171 H816.2 V210" fill="none" stroke="#d0d0d0" stroke-width="0.7"/><g fill="#4d8fd6"><rect x="772.0" y="168.6" width="3" height="2.0"/><rect x="775.0" y="167.6" width="3" height="3.0"/><rect x="778.0" y="167.1" width="3" height="3.5"/><rect x="781.0" y="165.6" width="3" height="5.0"/><rect x="784.0" y="161.6" width="3" height="9.0"/><rect x="787.0" y="162.1" width="3" height="8.5"/><rect x="790.0" y="161.1" width="3" height="9.5"/><rect x="793.0" y="164.6" width="3" height="6.0"/><rect x="796.0" y="163.1" width="3" height="7.5"/><rect x="799.0" y="166.6" width="3" height="4.0"/><rect x="802.0" y="165.1" width="3" height="5.5"/><rect x="805.0" y="168.1" width="3" height="2.5"/></g><g fill="#e0525a"><rect x="816.4" y="182.0" width="3.0" height="2.5"/><rect x="816.4" y="184.5" width="5.0" height="2.5"/><rect x="816.4" y="187.0" width="6.5" height="2.5"/><rect x="816.4" y="189.5" width="9.0" height="2.5"/><rect x="816.4" y="192.0" width="14.0" height="2.5"/><rect x="816.4" y="194.5" width="15.0" height="2.5"/><rect x="816.4" y="197.0" width="10.0" height="2.5"/><rect x="816.4" y="199.5" width="6.0" height="2.5"/><rect x="816.4" y="202.0" width="3.0" height="2.5"/></g><circle cx="814.2" cy="192.8" r="0.8" fill="#c050a0"/><circle cx="807.8" cy="178.7" r="0.8" fill="#d84878"/><circle cx="784.4" cy="174.9" r="0.8" fill="#9a6ad0"/><circle cx="812.1" cy="188.1" r="0.8" fill="#c050a0"/><circle cx="795.0" cy="180.6" r="0.8" fill="#c050a0"/><circle cx="771.2" cy="189.5" r="0.8" fill="#9a6ad0"/><circle cx="798.6" cy="182.6" r="0.8" fill="#9a6ad0"/><circle cx="790.1" cy="178.1" r="0.8" fill="#c050a0"/><circle cx="784.8" cy="185.2" r="0.8" fill="#c050a0"/><circle cx="783.9" cy="188.0" r="0.8" fill="#7060c8"/><circle cx="792.8" cy="174.0" r="0.8" fill="#9a6ad0"/><circle cx="792.0" cy="182.1" r="0.8" fill="#d84878"/><circle cx="776.7" cy="194.2" r="0.8" fill="#7060c8"/><circle cx="805.2" cy="187.4" r="0.8" fill="#d84878"/><circle cx="781.6" cy="193.2" r="0.8" fill="#c050a0"/><circle cx="802.0" cy="177.1" r="0.8" fill="#7060c8"/><circle cx="772.0" cy="198.5" r="0.8" fill="#9a6ad0"/><circle cx="784.3" cy="180.8" r="0.8" fill="#9a6ad0"/><circle cx="785.6" cy="181.4" r="0.8" fill="#c050a0"/><circle cx="798.8" cy="181.2" r="0.8" fill="#c050a0"/><circle cx="796.6" cy="178.6" r="0.8" fill="#d84878"/><circle cx="781.9" cy="189.8" r="0.8" fill="#c050a0"/><circle cx="787.9" cy="175.1" r="0.8" fill="#d84878"/><circle cx="809.8" cy="185.6" r="0.8" fill="#9a6ad0"/><circle cx="781.5" cy="181.2" r="0.8" fill="#c050a0"/><circle cx="778.9" cy="196.1" r="0.8" fill="#7060c8"/><circle cx="778.4" cy="196.1" r="0.8" fill="#7060c8"/><circle cx="791.4" cy="187.1" r="0.8" fill="#c050a0"/><circle cx="783.3" cy="178.3" r="0.8" fill="#d84878"/><circle cx="789.8" cy="176.6" r="0.8" fill="#c050a0"/><circle cx="785.1" cy="183.7" r="0.8" fill="#d84878"/><circle cx="793.9" cy="174.0" r="0.8" fill="#c050a0"/><path d="M790,176 Q812,180 812,205" fill="none" stroke="#e8b0b0" stroke-width="0.6"/><path d="M795,178 Q808,190 806,208" fill="none" stroke="#e8c0c0" stroke-width="0.6"/></g><text class="sub" x="693.3" y="226.2" filter="url(#b3)" textLength="147" lengthAdjust="spacingAndGlyphs">Stratified Random Sampling</text>
<g filter="url(#b6)"><rect x="859.1" y="38.3" width="52.3" height="42.4" fill="#fff" stroke="#c8ccd0" stroke-width="0.7"/><g stroke="#d8dcdc" stroke-width="0.6"><line x1="872.2" y1="38.3" x2="872.2" y2="80.7"/><line x1="885.3" y1="38.3" x2="885.3" y2="80.7"/><line x1="898.4" y1="38.3" x2="898.4" y2="80.7"/><line x1="859.1" y1="48.9" x2="911.4" y2="48.9"/><line x1="859.1" y1="59.5" x2="911.4" y2="59.5"/><line x1="859.1" y1="70.1" x2="911.4" y2="70.1"/></g><g fill="none" stroke-width="0.9"><path d="M861,78.5 H868 L871,76.5 H874 L875.5,75 L876.5,50 L877.5,73 L879,62 L880.5,73 L882,60 L883,76 H885" stroke="#8fb4dc"/><rect x="883.5" y="38.5" width="6" height="42" fill="#f6f6d8" stroke="none" opacity="0.8"/><path d="M886.4,79.5 V38.5" stroke="#9ccf9c" stroke-width="1.1"/><path d="M889,78 L890.5,60 L892,72 L893.5,64 L895,78" stroke="#d0e290"/><path d="M897,78 V70 H899 V78" stroke="#eaa0a0"/><path d="M861,78.6 H910" stroke="#99a" stroke-width="0.6"/></g><g font-size="3" fill="#888"><text x="853" y="60" transform="rotate(-90 855 60)">Intensity</text><text x="878" y="85.5">Wavenumber</text></g><path d="M912.9,58.9 H920.0 V56.9 L925.0,60.5 L920.0,64.1 V62.1 H912.9 Z" fill="#111"/><path d="M1000.6,60.2 H1007.5 V58.2 L1012.5,61.8 L1007.5,65.4 V63.4 H1000.6 Z" fill="#111"/><g stroke="#8a8a8a" stroke-width="0.7"><line x1="932.0" y1="41.8" x2="965.3" y2="41.8"/><line x1="932.0" y1="41.8" x2="965.3" y2="54.3"/><line x1="932.0" y1="41.8" x2="965.3" y2="67.3"/><line x1="932.0" y1="41.8" x2="965.3" y2="84.4"/><line x1="932.0" y1="54.3" x2="965.3" y2="41.8"/><line x1="932.0" y1="54.3" x2="965.3" y2="54.3"/><line x1="932.0" y1="54.3" x2="965.3" y2="67.3"/><line x1="932.0" y1="54.3" x2="965.3" y2="84.4"/><line x1="932.0" y1="67.3" x2="965.3" y2="41.8"/><line x1="932.0" y1="67.3" x2="965.3" y2="54.3"/><line x1="932.0" y1="67.3" x2="965.3" y2="67.3"/><line x1="932.0" y1="67.3" x2="965.3" y2="84.4"/><line x1="932.0" y1="84.4" x2="965.3" y2="41.8"/><line x1="932.0" y1="84.4" x2="965.3" y2="54.3"/><line x1="932.0" y1="84.4" x2="965.3" y2="67.3"/><line x1="932.0" y1="84.4" x2="965.3" y2="84.4"/><line x1="965.3" y1="41.8" x2="993.0" y2="61.8"/><line x1="965.3" y1="54.3" x2="993.0" y2="61.8"/><line x1="965.3" y1="67.3" x2="993.0" y2="61.8"/><line x1="965.3" y1="84.4" x2="993.0" y2="61.8"/></g><g fill="#cdcdcd" stroke="#b4b4b4" stroke-width="0.5"><circle cx="932.0" cy="41.8" r="4.6"/><circle cx="932.0" cy="54.3" r="4.6"/><circle cx="932.0" cy="67.3" r="4.6"/><circle cx="932.0" cy="84.4" r="4.6"/><circle cx="965.3" cy="41.8" r="4.6"/><circle cx="965.3" cy="54.3" r="4.6"/><circle cx="965.3" cy="67.3" r="4.6"/><circle cx="965.3" cy="84.4" r="4.6"/><circle cx="993.0" cy="61.8" r="4.6"/></g><g fill="#999"><circle cx="931.6" cy="73" r="0.5"/><circle cx="931.6" cy="76" r="0.5"/><circle cx="931.6" cy="79" r="0.5"/><circle cx="965.3" cy="73" r="0.5"/><circle cx="965.3" cy="76" r="0.5"/><circle cx="965.3" cy="79" r="0.5"/></g><g stroke="#333" stroke-width="1" fill="none"><path d="M1023.5,39.5 L1035,33.5 M1042.5,32.5 L1054.5,35.8"/><path d="M1040,34.5 L1046.8,45.8 L1048.8,44.6 Z" fill="#111"/><path d="M1035.6,66 V70 M1029.5,78 L1033,76.2 M1038.5,76 L1042,78 M1044.9,83 V86.5 M1047.5,77.5 L1054,73.8"/></g><g font-size="6.3" font-weight="bold" fill="#3c3c3c" text-anchor="middle"><text x="1019.0" y="44.8">R</text><text x="1038.6" y="34.2">N</text><text x="1059.3" y="39.4">H</text><text x="1049.8" y="52.5">H</text><text x="1035.6" y="65.3">H</text><text x="1035.6" y="76.2">C</text><text x="1025.8" y="81.8">H</text><text x="1044.9" y="81.8">C</text><text x="1044.9" y="92.7">H</text></g></g><text class="sub" x="887.4" y="105.7" filter="url(#b3)" textLength="163.2" lengthAdjust="spacingAndGlyphs" word-spacing="1.5">Functional Group Identification</text>
<defs><linearGradient id="mg" x1="0.15" y1="0" x2="0.7" y2="1"><stop offset="0" stop-color="#b2b2b2"/><stop offset="0.5" stop-color="#c8c8c8"/><stop offset="0.6" stop-color="#e0e0e0"/><stop offset="1" stop-color="#f0f0f0"/></linearGradient><radialGradient id="blob"><stop offset="0" stop-color="#111"/><stop offset="0.6" stop-color="#333"/><stop offset="1" stop-color="#555" stop-opacity="0"/></radialGradient><radialGradient id="blobL"><stop offset="0" stop-color="#777"/><stop offset="1" stop-color="#bbb" stop-opacity="0"/></radialGradient><radialGradient id="wb"><stop offset="0" stop-color="#fff"/><stop offset="1" stop-color="#888" stop-opacity="0"/></radialGradient></defs><g filter="url(#b6)"><rect x="864.7" y="126.4" width="75.7" height="75.5" fill="url(#mg)"/><circle cx="894.5" cy="168.1" r="0.7" fill="#555" opacity="0.68"/><circle cx="906.5" cy="162.3" r="0.4" fill="#555" opacity="0.70"/><circle cx="877.1" cy="179.6" r="0.5" fill="#555" opacity="0.37"/><circle cx="902.2" cy="148.1" r="0.8" fill="#555" opacity="0.77"/><circle cx="902.7" cy="159.4" r="0.5" fill="#555" opacity="0.56"/><circle cx="887.2" cy="158.2" r="0.7" fill="#555" opacity="0.72"/><circle cx="905.0" cy="163.5" r="0.9" fill="#555" opacity="0.75"/><circle cx="886.8" cy="156.6" r="0.7" fill="#555" opacity="0.59"/><circle cx="878.2" cy="168.0" r="0.8" fill="#555" opacity="0.31"/><circle cx="930.9" cy="144.4" r="0.9" fill="#555" opacity="0.58"/><circle cx="901.0" cy="158.2" r="0.7" fill="#555" opacity="0.51"/><circle cx="935.2" cy="143.2" r="0.7" fill="#555" opacity="0.36"/><circle cx="900.1" cy="150.3" r="0.7" fill="#555" opacity="0.46"/><circle cx="876.0" cy="160.7" r="0.5" fill="#555" opacity="0.69"/><circle cx="870.3" cy="179.3" r="0.8" fill="#555" opacity="0.46"/><circle cx="891.1" cy="162.7" r="0.8" fill="#555" opacity="0.36"/><circle cx="902.7" cy="163.6" r="0.7" fill="#555" opacity="0.52"/><circle cx="890.4" cy="167.8" r="0.5" fill="#555" opacity="0.40"/><circle cx="908.6" cy="150.2" r="0.9" fill="#555" opacity="0.61"/><circle cx="926.8" cy="158.4" r="0.9" fill="#555" opacity="0.75"/><circle cx="886.8" cy="178.4" r="0.5" fill="#555" opacity="0.80"/><circle cx="929.8" cy="150.9" r="0.8" fill="#555" opacity="0.43"/><circle cx="876.1" cy="167.4" r="0.9" fill="#555" opacity="0.36"/><circle cx="895.2" cy="162.1" r="0.5" fill="#555" opacity="0.64"/><circle cx="931.4" cy="146.2" r="0.7" fill="#555" opacity="0.68"/><circle cx="901.4" cy="156.3" r="0.4" fill="#555" opacity="0.35"/><circle cx="867.1" cy="172.5" r="0.7" fill="#555" opacity="0.37"/><circle cx="882.2" cy="181.1" r="1.0" fill="#555" opacity="0.76"/><circle cx="881.3" cy="178.6" r="0.7" fill="#555" opacity="0.68"/><circle cx="886.7" cy="167.0" r="0.7" fill="#555" opacity="0.60"/><circle cx="867.1" cy="164.5" r="0.5" fill="#555" opacity="0.53"/><circle cx="916.6" cy="154.6" r="0.5" fill="#555" opacity="0.56"/><circle cx="873.3" cy="168.8" r="0.8" fill="#555" opacity="0.73"/><circle cx="907.4" cy="160.4" r="0.7" fill="#555" opacity="0.79"/><circle cx="922.4" cy="163.4" r="0.8" fill="#555" opacity="0.69"/><circle cx="918.1" cy="157.1" r="0.9" fill="#555" opacity="0.65"/><circle cx="920.5" cy="145.4" r="0.8" fill="#555" opacity="0.34"/><circle cx="890.8" cy="165.2" r="0.6" fill="#555" opacity="0.62"/><circle cx="911.2" cy="170.4" r="0.8" fill="#555" opacity="0.47"/><circle cx="909.5" cy="151.8" r="0.6" fill="#555" opacity="0.80"/><circle cx="910.1" cy="145.8" r="1.0" fill="#555" opacity="0.31"/><circle cx="909.7" cy="151.7" r="0.6" fill="#555" opacity="0.33"/><circle cx="880.3" cy="171.7" r="0.6" fill="#555" opacity="0.75"/><circle cx="897.6" cy="157.6" r="0.7" fill="#555" opacity="0.80"/><circle cx="911.8" cy="153.4" r="0.8" fill="#555" opacity="0.68"/><circle cx="868.7" cy="157.8" r="0.5" fill="#777" opacity="0.45"/><circle cx="893.8" cy="133.4" r="0.6" fill="#777" opacity="0.45"/><circle cx="902.1" cy="129.9" r="0.9" fill="#777" opacity="0.45"/><circle cx="890.8" cy="144.9" r="0.7" fill="#777" opacity="0.45"/><circle cx="887.6" cy="137.1" r="0.7" fill="#777" opacity="0.45"/><circle cx="899.1" cy="137.1" r="0.8" fill="#777" opacity="0.45"/><circle cx="883.5" cy="128.4" r="0.5" fill="#777" opacity="0.45"/><circle cx="868.5" cy="133.0" r="0.8" fill="#777" opacity="0.45"/><circle cx="889.0" cy="156.7" r="0.8" fill="#777" opacity="0.45"/><circle cx="869.0" cy="159.6" r="0.9" fill="#777" opacity="0.45"/><circle cx="870.3" cy="157.0" r="0.6" fill="#777" opacity="0.45"/><circle cx="894.2" cy="159.1" r="0.5" fill="#777" opacity="0.45"/><circle cx="896.9" cy="158.0" r="0.8" fill="#777" opacity="0.45"/><circle cx="893.6" cy="159.3" r="0.8" fill="#777" opacity="0.45"/><circle cx="901.6" cy="131.7" r="0.7" fill="#777" opacity="0.45"/><circle cx="892.9" cy="134.5" r="0.4" fill="#777" opacity="0.45"/><circle cx="897.2" cy="132.0" r="0.6" fill="#777" opacity="0.45"/><circle cx="905.4" cy="142.6" r="0.5" fill="#777" opacity="0.45"/><circle cx="900.4" cy="141.4" r="0.8" fill="#777" opacity="0.45"/><circle cx="897.3" cy="159.9" r="0.9" fill="#777" opacity="0.45"/><circle cx="909.3" cy="135.6" r="0.5" fill="#777" opacity="0.45"/><circle cx="918.7" cy="153.1" r="0.7" fill="#777" opacity="0.45"/><circle cx="887.2" cy="136.7" r="0.7" fill="#777" opacity="0.45"/><circle cx="899.3" cy="146.9" r="0.7" fill="#777" opacity="0.45"/><circle cx="910.4" cy="134.1" r="0.5" fill="#777" opacity="0.45"/><circle cx="920.3" cy="157.0" r="3.6" fill="url(#blob)"/><circle cx="882.6" cy="173.5" r="3.6" fill="url(#blob)"/><circle cx="893.0" cy="178.3" r="3.0" fill="url(#blob)"/><circle cx="875.6" cy="166.3" r="2.3" fill="url(#blob)"/><circle cx="915.0" cy="160.0" r="2.0" fill="url(#blob)"/><circle cx="926.0" cy="155.0" r="1.8" fill="url(#blob)"/><circle cx="888.0" cy="176.0" r="2.5" fill="url(#blob)"/><circle cx="925.4" cy="186" r="4.2" fill="url(#blobL)"/><rect x="869.5" y="176.1" width="33.4" height="14.9" fill="none" stroke="#777" stroke-width="0.7"/><line x1="902.9" y1="162" x2="950.9" y2="148.9" stroke="#4a86c8" stroke-width="1.1" stroke-dasharray="2.5 1.2"/><rect x="955.7" y="132.5" width="25.8" height="25.1" fill="#1c1c1c"/><circle cx="971" cy="145" r="2.6" fill="url(#wb)"/><circle cx="974" cy="147.5" r="2" fill="url(#wb)"/><circle cx="967" cy="143" r="1.3" fill="url(#wb)" opacity="0.7"/><rect x="959.2" y="167.9" width="23.6" height="23.6" fill="#f4f4f4" stroke="#bdbdbd" stroke-width="0.7"/><rect x="962.5" y="171.2" width="23.6" height="23.6" fill="#f4f4f4" stroke="#bdbdbd" stroke-width="0.7"/><rect x="965.8" y="174.5" width="23.6" height="23.6" fill="#f4f4f4" stroke="#bdbdbd" stroke-width="0.7"/><rect x="969.1" y="177.8" width="23.6" height="23.6" fill="#f4f4f4" stroke="#bdbdbd" stroke-width="0.7"/><rect x="972.4" y="181.1" width="23.6" height="23.6" fill="#f4f4f4" stroke="#bdbdbd" stroke-width="0.7"/><rect x="984.2" y="185.8" width="6.6" height="6.6" fill="#eee" stroke="#b0b0c0" stroke-width="0.6"/><rect x="999.0" y="172.9" width="16.0" height="16.0" fill="#f4f4f4" stroke="#bdbdbd" stroke-width="0.7"/><rect x="1001.5" y="175.5" width="16.0" height="16.0" fill="#f4f4f4" stroke="#bdbdbd" stroke-width="0.7"/><rect x="1004.1" y="178.0" width="16.0" height="16.0" fill="#f4f4f4" stroke="#bdbdbd" stroke-width="0.7"/><rect x="1006.6" y="180.6" width="16.0" height="16.0" fill="#f4f4f4" stroke="#bdbdbd" stroke-width="0.7"/><rect x="1009.2" y="183.1" width="16.0" height="16.0" fill="#f4f4f4" stroke="#bdbdbd" stroke-width="0.7"/><rect x="1017.2" y="186.3" width="4.5" height="4.5" fill="#eee" stroke="#b0b0c0" stroke-width="0.6"/><rect x="1027.4" y="175.0" width="11.6" height="11.6" fill="#f4f4f4" stroke="#bdbdbd" stroke-width="0.7"/><rect x="1029.8" y="177.3" width="11.6" height="11.6" fill="#f4f4f4" stroke="#bdbdbd" stroke-width="0.7"/><rect x="1032.1" y="179.7" width="11.6" height="11.6" fill="#f4f4f4" stroke="#bdbdbd" stroke-width="0.7"/><rect x="1034.5" y="182.1" width="11.6" height="11.6" fill="#f4f4f4" stroke="#bdbdbd" stroke-width="0.7"/></g><text class="sub" x="910.5" y="226.8" filter="url(#b3)" textLength="100" lengthAdjust="spacingAndGlyphs" word-spacing="2">Image Recognition</text>
<defs><linearGradient id="cyl" x1="0" y1="0" x2="1" y2="0"><stop offset="0" stop-color="#3fb5b5"/><stop offset="0.5" stop-color="#8fe0dc"/><stop offset="1" stop-color="#3fb0b0"/></linearGradient><radialGradient id="rp"><stop offset="0" stop-color="#c01010"/><stop offset="0.35" stop-color="#f04010"/><stop offset="0.6" stop-color="#f8c020"/><stop offset="0.85" stop-color="#80d840"/><stop offset="1" stop-color="#40c8a0" stop-opacity="0"/></radialGradient><radialGradient id="bp"><stop offset="0" stop-color="#1030c0"/><stop offset="0.45" stop-color="#1880e0"/><stop offset="0.8" stop-color="#30c8d0"/><stop offset="1" stop-color="#40d0a0" stop-opacity="0"/></radialGradient><clipPath id="surf"><path d="M452.3,375.8 C458,376 462,384 467,387 C471,389.5 474,389 477.5,392.5 C475,400 469,409 464.8,414 C460,414 456,407 451,404 C447,401.5 444,400 441.5,396.5 C444,389 448,381 452.3,375.8 Z"/></clipPath></defs>
<g filter="url(#b6)"><g fill="none" stroke="#666" stroke-width="0.9"><path d="M401,339 H374.7 V349"/><path d="M546.4,339 H577 V350"/><path d="M401.8,359.3 H450"/><path d="M508.3,359.3 H548"/></g><g fill="#555"><path d="M372.2,346.5 L377.2,346.5 L374.7,350.5Z"/><path d="M448.5,357 L452.5,359.3 L448.5,361.6Z"/><path d="M546.5,357 L550.5,359.3 L546.5,361.6Z"/></g><rect x="401" y="335" width="145.4" height="8" rx="2.2" fill="#3d8fe2"/><text x="473.7" y="341" font-size="4.3" fill="#dbeaff" text-anchor="middle" textLength="128" lengthAdjust="spacingAndGlyphs">Augmented data set by adding new design from simulations and experiments</text><g fill="none" stroke="#9a9a9a" stroke-width="0.9" stroke-dasharray="3.2 1.8"><rect x="334.7" y="363.3" width="83.6" height="60"/><rect x="424.2" y="363.3" width="111.1" height="60"/><rect x="541.7" y="363.3" width="69.7" height="60"/></g><g fill="#9b9b9b"><rect x="348.4" y="350.3" width="53.4" height="17.7" rx="2.5"/><rect x="452.4" y="350.3" width="55.9" height="17.7" rx="2.5"/><rect x="550.6" y="350.3" width="53.4" height="17.7" rx="2.5"/></g><g font-size="4.3" fill="#e4e4e4" text-anchor="middle"><text x="375.1" y="357.8">Initial Dataset or</text><text x="375.1" y="363.5">Existing Database</text><text x="480.3" y="357.8">UQ-ML Modeling</text><text x="480.3" y="363.5">&amp; Bayesian Inference</text><text x="577.3" y="357.8">"On-demand" Design</text><text x="577.3" y="363.5">Experiments</text></g><g fill="none" stroke-width="0.9"><path d="M404,377 C440,372 470,368 505,372 C530,375 545,382 556,385" stroke="#f0c8a0"/><path d="M404,398 C420,394 435,410 470,414 C500,418 530,414 556,412" stroke="#c0a0d8"/><path d="M404,403 C420,420 440,412 452,402" stroke="#e8a0a0"/></g><path d="M341.3,372.5 V384.6 A9.7,2.2 0 0 0 360.6,384.6 V372.5 Z" fill="url(#cyl)" stroke="#2a9a9a" stroke-width="0.5"/><ellipse cx="350.9" cy="372.5" rx="9.7" ry="2.2" fill="#b6ecea" stroke="#2a9a9a" stroke-width="0.5"/><path d="M341.3,396.1 V409.3 A9.7,2.2 0 0 0 360.6,409.3 V396.1 Z" fill="url(#cyl)" stroke="#2a9a9a" stroke-width="0.5"/><ellipse cx="350.9" cy="396.1" rx="9.7" ry="2.2" fill="#b6ecea" stroke="#2a9a9a" stroke-width="0.5"/><g fill="#2a5870" opacity="0.75"><rect x="345" y="379" width="4.5" height="4.5"/><circle cx="355" cy="381.3" r="2.4" fill="#27708a"/><path d="M345,407 l2.5,-5 l2.5,5Z"/><circle cx="354.5" cy="404.5" r="2.4" fill="#4068a0"/></g><path d="M351,387.5 V393" stroke="#888" stroke-width="0.6"/><path d="M395,386 V393" stroke="#888" stroke-width="0.6"/><path d="M370.9,386.2 H374.9 V390.2 H378.9 V394.2 H374.9 V398.2 H370.9 V394.2 H366.9 V390.2 H370.9 Z" fill="#505050"/><rect x="386.5" y="369.6" width="17" height="16" fill="#bcdcb4" stroke="#9cc49a" stroke-width="0.5"/><circle cx="396.6" cy="380.4" r="0.9" fill="#6ab070"/><circle cx="400.8" cy="380.4" r="0.9" fill="#6ab070"/><circle cx="388.9" cy="377.1" r="0.9" fill="#4a9a50"/><circle cx="396.9" cy="382.3" r="0.9" fill="#4a9a50"/><circle cx="393.3" cy="381.9" r="0.9" fill="#2e7d40"/><circle cx="395.6" cy="378.4" r="0.9" fill="#4a9a50"/><circle cx="398.0" cy="376.4" r="0.9" fill="#4a9a50"/><circle cx="400.4" cy="380.7" r="0.9" fill="#4a9a50"/><circle cx="398.4" cy="372.4" r="0.9" fill="#6ab070"/><circle cx="396.5" cy="373.0" r="0.9" fill="#4a9a50"/><circle cx="401.1" cy="371.6" r="0.9" fill="#4a9a50"/><circle cx="401.0" cy="373.5" r="0.9" fill="#4a9a50"/><circle cx="392.3" cy="383.0" r="0.9" fill="#6ab070"/><circle cx="399.9" cy="379.0" r="0.9" fill="#4a9a50"/><circle cx="400.7" cy="379.8" r="0.9" fill="#2e7d40"/><circle cx="392.4" cy="375.8" r="0.9" fill="#4a9a50"/><rect x="386.5" y="393.9" width="17" height="16.4" fill="#7a7a9e"/><g font-size="3.6" fill="#777" text-anchor="middle"><text x="351" y="416.5">Discrete variables</text><text x="351" y="420.8">e.g., compositions</text><text x="395" y="416.5">Continuous variables</text><text x="395" y="420.8">e.g., particle sizes</text></g><path d="M433,373 V399 L456,412.5 M433,399 L428,402" stroke="#555" stroke-width="0.7" fill="none"/><path d="M431.5,375 L433,371.5 L434.5,375Z" fill="#444"/><path d="M435,403 L456,416.5 L478,407" stroke="#c4c4c4" stroke-width="2.6" fill="none" stroke-dasharray="0.8 1.2"/><path d="M433,396.5 C436,399.5 439,401 443,402 L442,397 Z" fill="#352a8c"/><path d="M473.5,391.5 C476,388.5 481,389.5 485,394.5 L483,396 C480,393 477,392 475,394 Z" fill="#2a2890"/><g clip-path="url(#surf)"><rect x="430" y="370" width="60" height="50" fill="#86d862"/><ellipse cx="470" cy="386" rx="9" ry="5" fill="#38c8b0" opacity="0.9"/><ellipse cx="452.3" cy="380.3" rx="8.5" ry="6.5" fill="url(#rp)"/><ellipse cx="450.8" cy="394.6" rx="9.5" ry="7" fill="url(#rp)"/><ellipse cx="465.6" cy="394.5" rx="8.5" ry="6.2" fill="url(#bp)"/><ellipse cx="464.4" cy="408.8" rx="9" ry="7" fill="url(#bp)"/></g><text x="429.5" y="392" font-size="3.2" fill="#555" transform="rotate(-90 429.5 392)" text-anchor="middle">Performance</text><path d="M486.7,381 C494,381 500,388 507,388 C514,388 517,382 524,382 C528,382 531,383 533,383 L533,387 C530,386 527,385 524,386 C517,388 514,393 507,393 C500,393 494,386 486.7,385 Z" fill="#b4abe6" opacity="0.8"/><path d="M486.7,383 C494,383 500,390.5 507,390.5 C514,390.5 517,384 524,384 C528,384 531,385 533,385" fill="none" stroke="#7a6ac8" stroke-width="0.7"/><path d="M486.7,405 C494,405 498,400 503,400 C507,400 508,404 512,404 C516,404 517,401 521,402 C526,403 530,405 533,405" fill="none" stroke="#9a9aa8" stroke-width="0.8"/><g fill="#999"><circle cx="490" cy="393.5" r="0.5"/><circle cx="503" cy="393.5" r="0.5"/><circle cx="516" cy="393.5" r="0.5"/><circle cx="529" cy="393.5" r="0.5"/><circle cx="490" cy="409" r="0.5"/><circle cx="503" cy="409" r="0.5"/><circle cx="516" cy="409" r="0.5"/><circle cx="529" cy="409" r="0.5"/></g><g font-size="3" fill="#444"><text x="510" y="380">GP</text><text x="519" y="400.5">EI/UCB</text></g><rect x="555.8" y="373.9" width="20.2" height="20" fill="#a8d838"/><circle cx="573.2" cy="380.0" r="1.6" fill="#e8e828" opacity="0.85"/><circle cx="567.3" cy="385.5" r="2.0" fill="#f0e020" opacity="0.85"/><circle cx="562.7" cy="389.2" r="1.8" fill="#58b838" opacity="0.85"/><circle cx="560.6" cy="383.4" r="1.4" fill="#58b838" opacity="0.85"/><circle cx="573.9" cy="376.0" r="2.1" fill="#80c830" opacity="0.85"/><circle cx="557.8" cy="388.7" r="1.6" fill="#e8e828" opacity="0.85"/><circle cx="571.6" cy="383.1" r="2.0" fill="#e8e828" opacity="0.85"/><circle cx="573.5" cy="378.9" r="2.1" fill="#80c830" opacity="0.85"/><circle cx="563.3" cy="381.5" r="1.8" fill="#80c830" opacity="0.85"/><circle cx="559.3" cy="388.0" r="2.2" fill="#58b838" opacity="0.85"/><circle cx="558.1" cy="391.3" r="1.3" fill="#58b838" opacity="0.85"/><circle cx="566.1" cy="381.6" r="1.4" fill="#58b838" opacity="0.85"/><circle cx="573.0" cy="384.6" r="1.6" fill="#58b838" opacity="0.85"/><circle cx="562.6" cy="388.9" r="2.0" fill="#48a040" opacity="0.85"/><circle cx="569.1" cy="392.1" r="1.4" fill="#f0e020" opacity="0.85"/><circle cx="558.9" cy="385.6" r="2.3" fill="#f0e020" opacity="0.85"/><circle cx="561.5" cy="385.5" r="2.2" fill="#80c830" opacity="0.85"/><circle cx="568.4" cy="378.0" r="2.4" fill="#48a040" opacity="0.85"/><circle cx="558.0" cy="383.8" r="2.2" fill="#f8d818" opacity="0.85"/><circle cx="574.0" cy="385.0" r="1.4" fill="#80c830" opacity="0.85"/><circle cx="559.3" cy="382.8" r="1.4" fill="#80c830" opacity="0.85"/><circle cx="562.5" cy="383.1" r="2.4" fill="#f8d818" opacity="0.85"/><circle cx="573.9" cy="383.1" r="1.8" fill="#48a040" opacity="0.85"/><circle cx="562.8" cy="380.1" r="1.8" fill="#f8d818" opacity="0.85"/><circle cx="559.4" cy="389.2" r="1.8" fill="#f8d818" opacity="0.85"/><circle cx="568.0" cy="383.9" r="1.6" fill="#f0e020" opacity="0.85"/><rect x="555.8" y="373.9" width="20.2" height="20" fill="none" stroke="#88b830" stroke-width="0.6"/><rect x="555.8" y="400.9" width="20.2" height="19.6" fill="#3a3a3a"/><line x1="565.6" y1="411.0" x2="565.8" y2="411.0" stroke="#888" stroke-width="0.5" opacity="0.7"/><line x1="571.0" y1="415.8" x2="571.8" y2="416.5" stroke="#aaa" stroke-width="0.5" opacity="0.7"/><line x1="563.2" y1="414.5" x2="562.3" y2="414.5" stroke="#aaa" stroke-width="0.5" opacity="0.7"/><line x1="574.2" y1="407.8" x2="572.9" y2="409.2" stroke="#555" stroke-width="0.5" opacity="0.7"/><line x1="566.6" y1="406.1" x2="567.3" y2="406.0" stroke="#aaa" stroke-width="0.5" opacity="0.7"/><line x1="562.9" y1="413.4" x2="563.9" y2="414.7" stroke="#aaa" stroke-width="0.5" opacity="0.7"/><line x1="573.6" y1="404.7" x2="575.0" y2="404.5" stroke="#aaa" stroke-width="0.5" opacity="0.7"/><line x1="574.2" y1="411.1" x2="574.3" y2="409.8" stroke="#aaa" stroke-width="0.5" opacity="0.7"/><line x1="573.8" y1="410.3" x2="574.6" y2="411.2" stroke="#555" stroke-width="0.5" opacity="0.7"/><line x1="559.7" y1="415.9" x2="560.0" y2="416.6" stroke="#555" stroke-width="0.5" opacity="0.7"/><line x1="562.1" y1="411.7" x2="563.6" y2="410.8" stroke="#888" stroke-width="0.5" opacity="0.7"/><line x1="560.1" y1="412.3" x2="560.6" y2="411.1" stroke="#666" stroke-width="0.5" opacity="0.7"/><line x1="568.2" y1="402.3" x2="568.1" y2="401.2" stroke="#888" stroke-width="0.5" opacity="0.7"/><line x1="573.0" y1="403.6" x2="574.9" y2="403.5" stroke="#888" stroke-width="0.5" opacity="0.7"/><line x1="564.2" y1="408.0" x2="564.8" y2="406.3" stroke="#666" stroke-width="0.5" opacity="0.7"/><line x1="560.9" y1="418.2" x2="558.9" y2="417.8" stroke="#aaa" stroke-width="0.5" opacity="0.7"/><line x1="572.3" y1="417.5" x2="573.1" y2="417.7" stroke="#888" stroke-width="0.5" opacity="0.7"/><line x1="566.7" y1="407.1" x2="565.9" y2="407.1" stroke="#aaa" stroke-width="0.5" opacity="0.7"/><line x1="574.2" y1="416.6" x2="573.9" y2="417.9" stroke="#aaa" stroke-width="0.5" opacity="0.7"/><line x1="565.1" y1="404.4" x2="564.7" y2="404.3" stroke="#666" stroke-width="0.5" opacity="0.7"/><line x1="574.4" y1="412.8" x2="573.8" y2="414.3" stroke="#888" stroke-width="0.5" opacity="0.7"/><line x1="563.6" y1="407.5" x2="565.2" y2="407.7" stroke="#aaa" stroke-width="0.5" opacity="0.7"/><line x1="568.1" y1="418.0" x2="567.6" y2="417.7" stroke="#666" stroke-width="0.5" opacity="0.7"/><line x1="565.6" y1="410.4" x2="566.5" y2="409.9" stroke="#666" stroke-width="0.5" opacity="0.7"/><line x1="567.5" y1="406.3" x2="569.4" y2="406.3" stroke="#555" stroke-width="0.5" opacity="0.7"/><line x1="556.9" y1="419.0" x2="556.1" y2="420.7" stroke="#666" stroke-width="0.5" opacity="0.7"/><line x1="565.3" y1="403.8" x2="565.8" y2="403.5" stroke="#aaa" stroke-width="0.5" opacity="0.7"/><line x1="557.2" y1="404.0" x2="556.8" y2="403.9" stroke="#aaa" stroke-width="0.5" opacity="0.7"/><line x1="561.0" y1="410.3" x2="559.2" y2="410.2" stroke="#666" stroke-width="0.5" opacity="0.7"/><line x1="569.8" y1="406.8" x2="569.8" y2="408.8" stroke="#888" stroke-width="0.5" opacity="0.7"/><line x1="556.8" y1="403.8" x2="555.9" y2="404.7" stroke="#aaa" stroke-width="0.5" opacity="0.7"/><line x1="570.0" y1="402.0" x2="569.4" y2="402.7" stroke="#666" stroke-width="0.5" opacity="0.7"/><line x1="557.2" y1="406.2" x2="557.0" y2="407.8" stroke="#666" stroke-width="0.5" opacity="0.7"/><line x1="556.8" y1="415.9" x2="556.5" y2="416.2" stroke="#555" stroke-width="0.5" opacity="0.7"/><line x1="572.4" y1="417.1" x2="572.3" y2="417.8" stroke="#666" stroke-width="0.5" opacity="0.7"/><line x1="573.1" y1="410.1" x2="574.2" y2="409.3" stroke="#888" stroke-width="0.5" opacity="0.7"/><line x1="569.4" y1="409.5" x2="568.5" y2="410.6" stroke="#aaa" stroke-width="0.5" opacity="0.7"/><line x1="559.1" y1="410.4" x2="559.3" y2="410.3" stroke="#aaa" stroke-width="0.5" opacity="0.7"/><line x1="566.5" y1="409.4" x2="566.6" y2="407.6" stroke="#666" stroke-width="0.5" opacity="0.7"/><line x1="561.4" y1="403.1" x2="559.7" y2="404.8" stroke="#aaa" stroke-width="0.5" opacity="0.7"/><g font-size="3.2" fill="#667" text-anchor="middle"><text x="566" y="372.3">Simulations</text><text x="566" y="399.3">Experiments</text></g><g fill="none" stroke="#b8b8b8" stroke-width="0.7"><path d="M580.8,376 V393 H598"/><path d="M580.8,403 V420 H598"/><path d="M581.5,391 C585,390 586,378 588.5,378 C591,378 593,389 597,390.5" stroke="#c0c0b0"/><path d="M581.5,418 C585,417 586,405 588.5,405 C591,405 593,416 597,417.5" stroke="#b0b0b0"/></g><path d="M602,390 L606.4,382 L610.8,390 H609 V405.6 H603.8 V390 Z" fill="#9a9a9a"/></g><text class="sub" x="426" y="436.2" font-size="11.4" filter="url(#b3)" textLength="108.6" lengthAdjust="spacingAndGlyphs">Bayesian Optimization</text>
<g filter="url(#b6)"><rect x="308.8" y="444" width="157.8" height="95.5" fill="#ececec"/><g fill="#fff"><rect x="323.0" y="462.0" width="32.0" height="6.6" rx="3.3"/><rect x="321.0" y="477.5" width="36.0" height="6.6" rx="3.3"/><rect x="318.0" y="493.3" width="42.0" height="6.6" rx="3.3"/><rect x="314.0" y="509.6" width="50.0" height="6.6" rx="3.3"/><rect x="322.0" y="525.1" width="34.0" height="6.6" rx="3.3"/></g><g font-size="3.6" fill="#333" text-anchor="middle"><text x="339" y="452" font-weight="bold" font-size="3.8">GA process</text><text x="339" y="466.6">Initial population</text><text x="339" y="482.1">Offspring polymers</text><text x="339" y="497.9">Crossover &amp; mutation</text><text x="339" y="514.2">Fitness function evaluation</text><text x="339" y="529.7">Parent polymers</text><text x="421.8" y="452" font-weight="bold" font-size="3.8">Evolution of chemical space</text></g><g stroke="#777" stroke-width="0.6" fill="#777"><path d="M339,470.6 V474.2" fill="none"/><path d="M337.9,473.8 L340.1,473.8 L339,475.8 Z" stroke="none"/><path d="M339,486.3 V489.9" fill="none"/><path d="M337.9,489.5 L340.1,489.5 L339,491.5 Z" stroke="none"/><path d="M339,502.3 V505.9" fill="none"/><path d="M337.9,505.5 L340.1,505.5 L339,507.5 Z" stroke="none"/><path d="M339,518.2 V521.8" fill="none"/><path d="M337.9,521.4 L340.1,521.4 L339,523.4 Z" stroke="none"/></g><path d="M357,528.4 H371.8 V524.5 M371.8,486 V480.8 H360" fill="none" stroke="#888" stroke-width="0.6"/><path d="M361.5,479.6 L358.5,480.8 L361.5,482Z" fill="#777"/><rect x="368.9" y="486.5" width="5.8" height="37.7" rx="1.5" fill="#c94545" stroke="#a03030" stroke-width="0.5"/><text x="371.8" y="505.5" font-size="3" fill="#f0c0c0" text-anchor="middle" transform="rotate(-90 371.8 505.5)" dy="1">Generations</text><g fill="#b8b8b8" opacity="0.55"><circle cx="406.9" cy="498.9" r="0.7"/><circle cx="411.8" cy="470.2" r="0.7"/><circle cx="406.3" cy="496.4" r="0.7"/><circle cx="409.6" cy="509.9" r="0.7"/><circle cx="408.7" cy="480.9" r="0.7"/><circle cx="419.6" cy="508.4" r="0.7"/><circle cx="417.3" cy="486.2" r="0.7"/><circle cx="410.3" cy="475.1" r="0.7"/><circle cx="410.5" cy="472.8" r="0.7"/><circle cx="412.6" cy="484.7" r="0.7"/><circle cx="412.1" cy="493.3" r="0.7"/><circle cx="414.5" cy="500.7" r="0.7"/><circle cx="408.8" cy="487.0" r="0.7"/><circle cx="406.6" cy="481.8" r="0.7"/><circle cx="403.6" cy="509.3" r="0.7"/><circle cx="418.6" cy="484.5" r="0.7"/><circle cx="412.6" cy="474.6" r="0.7"/><circle cx="393.8" cy="495.8" r="0.7"/><circle cx="410.4" cy="492.4" r="0.7"/><circle cx="410.2" cy="495.3" r="0.7"/><circle cx="416.1" cy="479.2" r="0.7"/><circle cx="406.2" cy="501.0" r="0.7"/><circle cx="410.8" cy="478.3" r="0.7"/><circle cx="410.7" cy="484.3" r="0.7"/><circle cx="405.6" cy="499.4" r="0.7"/><circle cx="421.3" cy="496.8" r="0.7"/><circle cx="412.8" cy="472.0" r="0.7"/><circle cx="409.3" cy="473.5" r="0.7"/><circle cx="406.8" cy="506.6" r="0.7"/><circle cx="406.0" cy="489.1" r="0.7"/><circle cx="413.9" cy="469.3" r="0.7"/><circle cx="415.7" cy="499.9" r="0.7"/><circle cx="413.1" cy="509.9" r="0.7"/><circle cx="411.7" cy="498.0" r="0.7"/><circle cx="416.5" cy="510.8" r="0.7"/><circle cx="412.9" cy="497.3" r="0.7"/><circle cx="407.2" cy="495.5" r="0.7"/><circle cx="411.4" cy="483.6" r="0.7"/><circle cx="417.8" cy="495.0" r="0.7"/><circle cx="409.0" cy="483.3" r="0.7"/><circle cx="414.5" cy="504.6" r="0.7"/><circle cx="413.9" cy="496.5" r="0.7"/><circle cx="400.9" cy="505.5" r="0.7"/><circle cx="403.7" cy="490.8" r="0.7"/><circle cx="404.6" cy="500.6" r="0.7"/><circle cx="412.2" cy="485.4" r="0.7"/><circle cx="411.5" cy="476.9" r="0.7"/><circle cx="412.7" cy="469.7" r="0.7"/><circle cx="404.3" cy="501.5" r="0.7"/><circle cx="407.9" cy="468.0" r="0.7"/><circle cx="414.0" cy="495.3" r="0.7"/><circle cx="408.4" cy="486.9" r="0.7"/><circle cx="411.3" cy="474.8" r="0.7"/><circle cx="408.8" cy="475.0" r="0.7"/><circle cx="418.2" cy="506.7" r="0.7"/><circle cx="410.9" cy="474.7" r="0.7"/><circle cx="413.5" cy="475.1" r="0.7"/><circle cx="411.5" cy="480.6" r="0.7"/><circle cx="413.1" cy="469.4" r="0.7"/><circle cx="393.8" cy="508.7" r="0.7"/><circle cx="425.5" cy="498.3" r="0.7"/><circle cx="391.4" cy="497.6" r="0.7"/><circle cx="412.1" cy="473.2" r="0.7"/><circle cx="407.9" cy="497.4" r="0.7"/><circle cx="423.7" cy="500.1" r="0.7"/><circle cx="411.2" cy="475.2" r="0.7"/><circle cx="411.8" cy="478.1" r="0.7"/><circle cx="406.0" cy="471.4" r="0.7"/><circle cx="419.1" cy="484.0" r="0.7"/><circle cx="407.3" cy="481.7" r="0.7"/><circle cx="412.4" cy="500.2" r="0.7"/><circle cx="414.3" cy="499.6" r="0.7"/><circle cx="416.2" cy="497.6" r="0.7"/><circle cx="404.0" cy="509.4" r="0.7"/><circle cx="401.5" cy="510.9" r="0.7"/><circle cx="413.5" cy="468.3" r="0.7"/><circle cx="414.6" cy="486.0" r="0.7"/><circle cx="405.4" cy="470.0" r="0.7"/><circle cx="404.9" cy="490.8" r="0.7"/><circle cx="412.6" cy="483.4" r="0.7"/><circle cx="413.2" cy="507.5" r="0.7"/><circle cx="413.0" cy="489.6" r="0.7"/><circle cx="410.5" cy="478.7" r="0.7"/><circle cx="410.4" cy="470.2" r="0.7"/><circle cx="411.9" cy="479.2" r="0.7"/><circle cx="410.4" cy="485.9" r="0.7"/><circle cx="411.6" cy="469.7" r="0.7"/><circle cx="416.7" cy="510.8" r="0.7"/><circle cx="416.9" cy="485.7" r="0.7"/><circle cx="416.1" cy="491.4" r="0.7"/><circle cx="412.1" cy="472.8" r="0.7"/><circle cx="419.2" cy="491.8" r="0.7"/><circle cx="404.5" cy="505.7" r="0.7"/><circle cx="415.5" cy="477.4" r="0.7"/><circle cx="411.9" cy="489.4" r="0.7"/><circle cx="403.8" cy="493.1" r="0.7"/><circle cx="419.6" cy="499.9" r="0.7"/><circle cx="406.9" cy="508.2" r="0.7"/><circle cx="421.0" cy="504.4" r="0.7"/><circle cx="413.4" cy="477.9" r="0.7"/><circle cx="412.4" cy="471.9" r="0.7"/><circle cx="414.4" cy="502.0" r="0.7"/><circle cx="408.8" cy="473.7" r="0.7"/><circle cx="411.0" cy="471.6" r="0.7"/><circle cx="413.4" cy="486.9" r="0.7"/><circle cx="411.1" cy="493.4" r="0.7"/><circle cx="414.0" cy="498.8" r="0.7"/><circle cx="411.5" cy="470.1" r="0.7"/><circle cx="415.1" cy="484.4" r="0.7"/><circle cx="409.1" cy="472.3" r="0.7"/><circle cx="414.7" cy="501.1" r="0.7"/><circle cx="419.2" cy="492.5" r="0.7"/><circle cx="402.9" cy="501.4" r="0.7"/><circle cx="398.5" cy="493.3" r="0.7"/><circle cx="416.3" cy="496.8" r="0.7"/><circle cx="408.6" cy="510.0" r="0.7"/><circle cx="404.6" cy="479.8" r="0.7"/><circle cx="407.2" cy="503.7" r="0.7"/><circle cx="411.8" cy="470.9" r="0.7"/><circle cx="410.6" cy="475.5" r="0.7"/><circle cx="417.5" cy="480.6" r="0.7"/><circle cx="411.2" cy="470.8" r="0.7"/><circle cx="408.7" cy="469.2" r="0.7"/><circle cx="412.3" cy="470.2" r="0.7"/><circle cx="417.9" cy="505.8" r="0.7"/><circle cx="404.9" cy="509.8" r="0.7"/><circle cx="408.3" cy="486.9" r="0.7"/><circle cx="410.6" cy="483.9" r="0.7"/><circle cx="412.0" cy="493.7" r="0.7"/><circle cx="410.4" cy="504.4" r="0.7"/><circle cx="408.0" cy="491.3" r="0.7"/><circle cx="410.1" cy="475.5" r="0.7"/><circle cx="399.5" cy="509.3" r="0.7"/><circle cx="417.1" cy="503.0" r="0.7"/><circle cx="417.3" cy="508.3" r="0.7"/><circle cx="405.0" cy="488.3" r="0.7"/><circle cx="415.0" cy="501.8" r="0.7"/><circle cx="407.0" cy="494.2" r="0.7"/><circle cx="412.0" cy="472.6" r="0.7"/><circle cx="409.1" cy="470.3" r="0.7"/><circle cx="425.5" cy="511.0" r="0.7"/><circle cx="412.7" cy="489.2" r="0.7"/><circle cx="405.4" cy="506.8" r="0.7"/><circle cx="412.9" cy="480.2" r="0.7"/><circle cx="408.0" cy="476.9" r="0.7"/><circle cx="407.8" cy="501.0" r="0.7"/><circle cx="409.2" cy="478.6" r="0.7"/><circle cx="417.9" cy="511.2" r="0.7"/><circle cx="419.1" cy="505.0" r="0.7"/><circle cx="404.8" cy="485.6" r="0.7"/><circle cx="412.7" cy="474.3" r="0.7"/><circle cx="409.1" cy="469.7" r="0.7"/><circle cx="415.1" cy="475.5" r="0.7"/><circle cx="420.7" cy="507.6" r="0.7"/><circle cx="411.9" cy="476.8" r="0.7"/><circle cx="403.9" cy="498.0" r="0.7"/><circle cx="398.0" cy="506.0" r="0.7"/><circle cx="404.4" cy="484.6" r="0.7"/><circle cx="408.9" cy="468.4" r="0.7"/><circle cx="410.7" cy="476.1" r="0.7"/><circle cx="410.5" cy="485.1" r="0.7"/><circle cx="412.0" cy="481.7" r="0.7"/><circle cx="402.8" cy="484.8" r="0.7"/><circle cx="412.3" cy="485.6" r="0.7"/><circle cx="421.3" cy="511.2" r="0.7"/><circle cx="393.5" cy="498.5" r="0.7"/><circle cx="396.7" cy="497.5" r="0.7"/><circle cx="408.9" cy="484.0" r="0.7"/><circle cx="407.1" cy="494.1" r="0.7"/><circle cx="406.2" cy="480.5" r="0.7"/><circle cx="412.8" cy="471.4" r="0.7"/><circle cx="414.6" cy="493.5" r="0.7"/><circle cx="409.3" cy="501.4" r="0.7"/><circle cx="402.0" cy="508.9" r="0.7"/><circle cx="410.7" cy="480.1" r="0.7"/><circle cx="407.6" cy="501.1" r="0.7"/><circle cx="427.9" cy="497.5" r="0.7"/><circle cx="406.2" cy="498.3" r="0.7"/><circle cx="410.0" cy="504.9" r="0.7"/><circle cx="406.1" cy="477.2" r="0.7"/><circle cx="414.9" cy="490.7" r="0.7"/><circle cx="406.0" cy="510.9" r="0.7"/><circle cx="410.6" cy="491.9" r="0.7"/><circle cx="411.3" cy="485.2" r="0.7"/><circle cx="407.0" cy="475.8" r="0.7"/><circle cx="392.4" cy="508.0" r="0.7"/><circle cx="408.2" cy="495.0" r="0.7"/><circle cx="413.6" cy="498.3" r="0.7"/><circle cx="409.5" cy="492.4" r="0.7"/><circle cx="401.2" cy="507.0" r="0.7"/><circle cx="410.0" cy="477.4" r="0.7"/><circle cx="416.7" cy="495.4" r="0.7"/><circle cx="418.4" cy="507.5" r="0.7"/><circle cx="422.3" cy="501.7" r="0.7"/><circle cx="415.5" cy="477.9" r="0.7"/><circle cx="415.9" cy="504.5" r="0.7"/><circle cx="409.5" cy="506.7" r="0.7"/><circle cx="405.1" cy="486.7" r="0.7"/><circle cx="415.8" cy="491.3" r="0.7"/><circle cx="408.9" cy="480.4" r="0.7"/><circle cx="415.8" cy="494.6" r="0.7"/><circle cx="410.8" cy="469.3" r="0.7"/><circle cx="407.7" cy="473.1" r="0.7"/><circle cx="409.3" cy="476.1" r="0.7"/><circle cx="406.9" cy="476.4" r="0.7"/><circle cx="404.2" cy="498.4" r="0.7"/><circle cx="420.4" cy="500.1" r="0.7"/><circle cx="415.3" cy="504.7" r="0.7"/><circle cx="402.0" cy="510.1" r="0.7"/><circle cx="425.1" cy="496.4" r="0.7"/><circle cx="413.2" cy="508.8" r="0.7"/><circle cx="426.2" cy="505.0" r="0.7"/><circle cx="414.3" cy="489.0" r="0.7"/><circle cx="412.2" cy="474.9" r="0.7"/><circle cx="412.9" cy="472.1" r="0.7"/><circle cx="413.9" cy="472.6" r="0.7"/><circle cx="409.6" cy="501.4" r="0.7"/><circle cx="393.5" cy="503.4" r="0.7"/><circle cx="430.2" cy="499.4" r="0.7"/><circle cx="402.1" cy="495.5" r="0.7"/><circle cx="415.1" cy="510.5" r="0.7"/><circle cx="411.6" cy="470.8" r="0.7"/><circle cx="408.2" cy="477.1" r="0.7"/><circle cx="417.5" cy="497.9" r="0.7"/><circle cx="418.8" cy="500.7" r="0.7"/><circle cx="414.5" cy="491.9" r="0.7"/><circle cx="416.2" cy="484.5" r="0.7"/><circle cx="415.8" cy="484.5" r="0.7"/><circle cx="389.6" cy="498.1" r="0.7"/><circle cx="411.8" cy="509.6" r="0.7"/><circle cx="411.2" cy="471.2" r="0.7"/><circle cx="403.9" cy="481.0" r="0.7"/><circle cx="408.5" cy="473.1" r="0.7"/><circle cx="412.1" cy="500.4" r="0.7"/><circle cx="404.5" cy="508.4" r="0.7"/><circle cx="414.6" cy="489.9" r="0.7"/><circle cx="413.7" cy="498.7" r="0.7"/><circle cx="405.3" cy="481.0" r="0.7"/><circle cx="414.4" cy="482.8" r="0.7"/><circle cx="409.0" cy="470.2" r="0.7"/><circle cx="411.6" cy="486.5" r="0.7"/><circle cx="414.3" cy="471.2" r="0.7"/><circle cx="415.0" cy="479.9" r="0.7"/><circle cx="418.3" cy="511.3" r="0.7"/><circle cx="398.8" cy="491.8" r="0.7"/><circle cx="414.7" cy="472.0" r="0.7"/><circle cx="411.2" cy="483.7" r="0.7"/><circle cx="410.1" cy="501.7" r="0.7"/><circle cx="414.9" cy="483.9" r="0.7"/><circle cx="411.5" cy="488.2" r="0.7"/><circle cx="409.2" cy="484.8" r="0.7"/><circle cx="410.9" cy="477.6" r="0.7"/><circle cx="399.1" cy="510.9" r="0.7"/><circle cx="411.9" cy="471.8" r="0.7"/><circle cx="417.3" cy="480.3" r="0.7"/><circle cx="408.2" cy="490.3" r="0.7"/><circle cx="408.2" cy="470.3" r="0.7"/><circle cx="417.3" cy="487.1" r="0.7"/><circle cx="419.8" cy="494.1" r="0.7"/><circle cx="404.5" cy="496.0" r="0.7"/><circle cx="414.2" cy="469.6" r="0.7"/><circle cx="412.4" cy="486.2" r="0.7"/><circle cx="421.4" cy="506.5" r="0.7"/><circle cx="400.6" cy="484.7" r="0.7"/><circle cx="412.0" cy="512.0" r="0.7"/><circle cx="404.7" cy="474.5" r="0.7"/><circle cx="389.0" cy="502.4" r="0.7"/><circle cx="425.4" cy="511.7" r="0.7"/><circle cx="408.4" cy="477.5" r="0.7"/><circle cx="413.3" cy="488.7" r="0.7"/><circle cx="409.9" cy="480.6" r="0.7"/><circle cx="409.6" cy="475.4" r="0.7"/><circle cx="416.3" cy="488.1" r="0.7"/><circle cx="415.6" cy="507.5" r="0.7"/><circle cx="411.7" cy="507.0" r="0.7"/><circle cx="412.8" cy="504.4" r="0.7"/><circle cx="406.1" cy="510.3" r="0.7"/><circle cx="409.8" cy="478.4" r="0.7"/><circle cx="413.5" cy="508.5" r="0.7"/><circle cx="410.7" cy="476.1" r="0.7"/><circle cx="410.0" cy="486.9" r="0.7"/><circle cx="419.7" cy="484.4" r="0.7"/><circle cx="417.5" cy="502.1" r="0.7"/><circle cx="422.1" cy="510.9" r="0.7"/><circle cx="414.5" cy="498.9" r="0.7"/><circle cx="413.1" cy="496.3" r="0.7"/><circle cx="406.9" cy="484.5" r="0.7"/><circle cx="417.1" cy="493.6" r="0.7"/><circle cx="411.8" cy="510.5" r="0.7"/><circle cx="416.3" cy="479.6" r="0.7"/><circle cx="410.6" cy="492.0" r="0.7"/><circle cx="407.6" cy="489.2" r="0.7"/><circle cx="425.7" cy="499.1" r="0.7"/><circle cx="411.5" cy="486.4" r="0.7"/><circle cx="402.1" cy="490.2" r="0.7"/><circle cx="408.7" cy="470.5" r="0.7"/><circle cx="417.2" cy="490.0" r="0.7"/><circle cx="412.2" cy="483.2" r="0.7"/><circle cx="410.4" cy="468.9" r="0.7"/><circle cx="419.4" cy="496.8" r="0.7"/><circle cx="401.9" cy="508.7" r="0.7"/><circle cx="418.7" cy="499.4" r="0.7"/><circle cx="406.8" cy="481.3" r="0.7"/><circle cx="412.2" cy="475.3" r="0.7"/><circle cx="410.0" cy="487.7" r="0.7"/><circle cx="402.3" cy="500.4" r="0.7"/><circle cx="409.1" cy="508.7" r="0.7"/><circle cx="403.0" cy="481.2" r="0.7"/><circle cx="409.3" cy="474.1" r="0.7"/><circle cx="404.5" cy="483.4" r="0.7"/><circle cx="411.2" cy="477.1" r="0.7"/><circle cx="413.4" cy="488.0" r="0.7"/><circle cx="411.8" cy="483.1" r="0.7"/><circle cx="413.2" cy="474.3" r="0.7"/><circle cx="410.3" cy="480.1" r="0.7"/><circle cx="410.6" cy="502.5" r="0.7"/><circle cx="403.4" cy="504.5" r="0.7"/><circle cx="402.6" cy="495.5" r="0.7"/><circle cx="414.6" cy="478.8" r="0.7"/><circle cx="414.2" cy="479.6" r="0.7"/><circle cx="403.1" cy="507.5" r="0.7"/><circle cx="411.7" cy="475.8" r="0.7"/><circle cx="413.2" cy="500.5" r="0.7"/><circle cx="413.1" cy="492.7" r="0.7"/><circle cx="411.2" cy="504.3" r="0.7"/><circle cx="412.3" cy="489.8" r="0.7"/><circle cx="409.5" cy="493.9" r="0.7"/><circle cx="410.3" cy="473.2" r="0.7"/><circle cx="400.7" cy="494.9" r="0.7"/><circle cx="412.7" cy="477.7" r="0.7"/><circle cx="410.7" cy="470.8" r="0.7"/><circle cx="413.6" cy="498.1" r="0.7"/><circle cx="412.2" cy="488.3" r="0.7"/><circle cx="420.9" cy="496.6" r="0.7"/><circle cx="408.8" cy="471.1" r="0.7"/><circle cx="413.2" cy="496.3" r="0.7"/><circle cx="407.2" cy="501.2" r="0.7"/><circle cx="410.9" cy="479.4" r="0.7"/><circle cx="411.5" cy="501.4" r="0.7"/><circle cx="417.1" cy="490.7" r="0.7"/><circle cx="409.0" cy="474.8" r="0.7"/><circle cx="410.3" cy="477.5" r="0.7"/><circle cx="419.6" cy="477.0" r="0.7"/><circle cx="410.4" cy="471.9" r="0.7"/><circle cx="412.9" cy="486.7" r="0.7"/><circle cx="408.2" cy="495.4" r="0.7"/><circle cx="409.5" cy="474.1" r="0.7"/><circle cx="408.3" cy="489.6" r="0.7"/><circle cx="403.7" cy="493.2" r="0.7"/><circle cx="416.1" cy="508.1" r="0.7"/><circle cx="415.0" cy="489.7" r="0.7"/><circle cx="418.1" cy="491.6" r="0.7"/><circle cx="404.9" cy="497.1" r="0.7"/><circle cx="413.3" cy="486.5" r="0.7"/><circle cx="402.8" cy="480.9" r="0.7"/><circle cx="410.9" cy="472.7" r="0.7"/><circle cx="420.8" cy="507.1" r="0.7"/><circle cx="406.9" cy="479.6" r="0.7"/><circle cx="399.5" cy="510.1" r="0.7"/><circle cx="411.3" cy="473.1" r="0.7"/><circle cx="408.7" cy="472.5" r="0.7"/><circle cx="416.8" cy="495.8" r="0.7"/><circle cx="408.8" cy="470.2" r="0.7"/><circle cx="399.1" cy="510.8" r="0.7"/><circle cx="419.3" cy="499.9" r="0.7"/><circle cx="407.9" cy="479.5" r="0.7"/><circle cx="412.2" cy="472.2" r="0.7"/><circle cx="410.5" cy="470.8" r="0.7"/><circle cx="400.7" cy="506.3" r="0.7"/><circle cx="410.6" cy="470.8" r="0.7"/><circle cx="417.5" cy="509.5" r="0.7"/><circle cx="419.9" cy="502.8" r="0.7"/><circle cx="409.2" cy="472.6" r="0.7"/><circle cx="411.2" cy="486.3" r="0.7"/><circle cx="412.7" cy="492.9" r="0.7"/><circle cx="415.1" cy="480.8" r="0.7"/><circle cx="419.1" cy="509.1" r="0.7"/><circle cx="406.0" cy="509.6" r="0.7"/><circle cx="411.9" cy="501.8" r="0.7"/><circle cx="409.9" cy="473.1" r="0.7"/><circle cx="409.9" cy="511.4" r="0.7"/><circle cx="405.9" cy="491.9" r="0.7"/><circle cx="413.1" cy="492.2" r="0.7"/><circle cx="404.1" cy="510.8" r="0.7"/><circle cx="413.0" cy="490.6" r="0.7"/><circle cx="399.8" cy="508.4" r="0.7"/><circle cx="421.2" cy="508.4" r="0.7"/><circle cx="413.2" cy="482.3" r="0.7"/><circle cx="407.7" cy="474.1" r="0.7"/><circle cx="413.1" cy="470.4" r="0.7"/><circle cx="408.5" cy="487.5" r="0.7"/><circle cx="399.8" cy="508.4" r="0.7"/><circle cx="408.7" cy="480.5" r="0.7"/><circle cx="410.6" cy="500.7" r="0.7"/><circle cx="421.2" cy="501.4" r="0.7"/><circle cx="414.4" cy="494.6" r="0.7"/><circle cx="415.2" cy="498.6" r="0.7"/><circle cx="416.9" cy="473.9" r="0.7"/><circle cx="413.9" cy="475.4" r="0.7"/><circle cx="415.5" cy="495.3" r="0.7"/><circle cx="419.1" cy="505.7" r="0.7"/><circle cx="414.4" cy="472.6" r="0.7"/><circle cx="410.9" cy="493.5" r="0.7"/><circle cx="412.9" cy="470.3" r="0.7"/><circle cx="421.6" cy="499.7" r="0.7"/><circle cx="416.7" cy="482.8" r="0.7"/><circle cx="405.5" cy="494.0" r="0.7"/><circle cx="401.9" cy="506.4" r="0.7"/><circle cx="409.1" cy="508.5" r="0.7"/><circle cx="420.1" cy="506.6" r="0.7"/><circle cx="408.4" cy="473.8" r="0.7"/><circle cx="416.6" cy="511.0" r="0.7"/><circle cx="408.4" cy="473.6" r="0.7"/><circle cx="398.8" cy="500.0" r="0.7"/><circle cx="412.2" cy="468.0" r="0.7"/><circle cx="408.0" cy="505.5" r="0.7"/></g><path d="M411.5,468 L398,492 L392,503 L430,503 L424,490 Z" fill="#c8c8c8" opacity="0.35"/><path d="M387.8,504 C389,499 392,496 395.8,494.5 C400,492.5 405,492 408.5,493 C413,497 416.5,503 418,509 C418.5,511.5 418.3,513.5 417.3,515.3 C413,518.5 407,520 402,520 C397,519.5 392,517 389.4,513.7 C387.5,510.5 387.2,507 387.8,504 Z" fill="#9fe8e6" fill-opacity="0.6" stroke="#5a8084" stroke-width="0.7"/><path d="M408.5,497.7 C410,494 412,491.5 415,489.7 C417.5,488.3 420,487.5 422.9,487.3 C424.3,490.5 424.5,494 423.7,497.7 C422,500.5 419.5,502.5 416.5,504 C414,503.8 412,503.3 410,502.5 Z" fill="#b4ecea" fill-opacity="0.5" stroke="#6a8a8e" stroke-width="0.6"/><g fill="#48cccc" opacity="0.55"><circle cx="399.1" cy="502.1" r="0.6"/><circle cx="408.5" cy="500.0" r="0.6"/><circle cx="396.9" cy="514.5" r="0.6"/><circle cx="392.0" cy="506.7" r="0.6"/><circle cx="393.6" cy="500.5" r="0.6"/><circle cx="407.4" cy="512.4" r="0.6"/><circle cx="415.4" cy="507.1" r="0.6"/><circle cx="404.8" cy="496.6" r="0.6"/><circle cx="411.3" cy="508.8" r="0.6"/><circle cx="399.5" cy="507.4" r="0.6"/><circle cx="408.6" cy="521.2" r="0.6"/><circle cx="406.1" cy="503.8" r="0.6"/><circle cx="407.8" cy="500.0" r="0.6"/><circle cx="395.4" cy="512.2" r="0.6"/><circle cx="403.7" cy="511.4" r="0.6"/><circle cx="413.2" cy="507.5" r="0.6"/><circle cx="392.9" cy="502.6" r="0.6"/><circle cx="395.5" cy="506.9" r="0.6"/><circle cx="399.0" cy="515.4" r="0.6"/><circle cx="396.4" cy="512.3" r="0.6"/><circle cx="403.4" cy="501.0" r="0.6"/><circle cx="402.0" cy="505.2" r="0.6"/><circle cx="402.1" cy="517.5" r="0.6"/><circle cx="404.4" cy="508.5" r="0.6"/><circle cx="414.9" cy="507.9" r="0.6"/><circle cx="409.1" cy="510.8" r="0.6"/><circle cx="391.3" cy="510.7" r="0.6"/><circle cx="394.6" cy="508.0" r="0.6"/><circle cx="415.3" cy="508.5" r="0.6"/><circle cx="404.1" cy="499.4" r="0.6"/><circle cx="407.9" cy="500.5" r="0.6"/><circle cx="400.1" cy="496.5" r="0.6"/><circle cx="402.0" cy="506.3" r="0.6"/><circle cx="418.8" cy="496.0" r="0.6"/><circle cx="403.8" cy="508.9" r="0.6"/><circle cx="401.3" cy="509.1" r="0.6"/><circle cx="400.9" cy="508.7" r="0.6"/><circle cx="403.1" cy="507.4" r="0.6"/><circle cx="397.7" cy="509.0" r="0.6"/><circle cx="402.1" cy="501.6" r="0.6"/><circle cx="411.7" cy="518.8" r="0.6"/><circle cx="411.4" cy="501.8" r="0.6"/><circle cx="404.5" cy="512.5" r="0.6"/><circle cx="396.2" cy="508.7" r="0.6"/><circle cx="410.6" cy="508.0" r="0.6"/><circle cx="404.2" cy="498.6" r="0.6"/><circle cx="409.8" cy="500.6" r="0.6"/><circle cx="404.1" cy="495.9" r="0.6"/><circle cx="413.8" cy="502.1" r="0.6"/><circle cx="394.1" cy="511.1" r="0.6"/><circle cx="395.1" cy="497.5" r="0.6"/><circle cx="401.3" cy="501.2" r="0.6"/><circle cx="405.3" cy="511.6" r="0.6"/><circle cx="403.0" cy="515.3" r="0.6"/><circle cx="403.6" cy="503.4" r="0.6"/><circle cx="389.9" cy="504.8" r="0.6"/><circle cx="400.9" cy="508.8" r="0.6"/><circle cx="397.8" cy="503.8" r="0.6"/><circle cx="406.6" cy="510.6" r="0.6"/><circle cx="407.0" cy="507.1" r="0.6"/></g><g fill="#a45adc" opacity="0.8"><circle cx="434.8" cy="486.6" r="0.7"/><circle cx="440.4" cy="489.4" r="0.7"/><circle cx="432.9" cy="482.6" r="0.7"/><circle cx="428.6" cy="477.2" r="0.7"/><circle cx="439.0" cy="489.5" r="0.7"/><circle cx="440.6" cy="501.1" r="0.7"/><circle cx="438.2" cy="492.3" r="0.7"/><circle cx="432.1" cy="488.3" r="0.7"/><circle cx="429.2" cy="484.4" r="0.7"/><circle cx="425.2" cy="474.0" r="0.7"/><circle cx="439.9" cy="494.0" r="0.7"/><circle cx="440.9" cy="498.1" r="0.7"/><circle cx="445.3" cy="498.9" r="0.7"/><circle cx="442.1" cy="497.2" r="0.7"/><circle cx="424.4" cy="470.3" r="0.7"/><circle cx="441.5" cy="494.4" r="0.7"/><circle cx="435.0" cy="488.5" r="0.7"/><circle cx="430.6" cy="481.8" r="0.7"/><circle cx="440.7" cy="497.1" r="0.7"/><circle cx="425.6" cy="480.8" r="0.7"/><circle cx="432.6" cy="483.3" r="0.7"/><circle cx="448.4" cy="505.4" r="0.7"/><circle cx="428.8" cy="476.5" r="0.7"/><circle cx="427.7" cy="473.6" r="0.7"/><circle cx="438.1" cy="496.9" r="0.7"/><circle cx="426.1" cy="476.1" r="0.7"/><circle cx="431.6" cy="478.2" r="0.7"/><circle cx="429.9" cy="483.6" r="0.7"/><circle cx="436.1" cy="492.5" r="0.7"/><circle cx="438.0" cy="494.4" r="0.7"/><circle cx="424.8" cy="478.5" r="0.7"/><circle cx="430.5" cy="485.1" r="0.7"/><circle cx="439.4" cy="494.6" r="0.7"/><circle cx="442.8" cy="497.3" r="0.7"/><circle cx="443.1" cy="497.1" r="0.7"/><circle cx="425.6" cy="473.2" r="0.7"/><circle cx="441.9" cy="494.9" r="0.7"/><circle cx="427.2" cy="481.0" r="0.7"/><circle cx="438.5" cy="485.4" r="0.7"/><circle cx="439.9" cy="491.7" r="0.7"/><circle cx="435.0" cy="491.4" r="0.7"/><circle cx="428.3" cy="474.1" r="0.7"/><circle cx="446.6" cy="496.5" r="0.7"/><circle cx="437.0" cy="478.3" r="0.7"/><circle cx="427.6" cy="472.2" r="0.7"/><circle cx="435.3" cy="489.1" r="0.7"/><circle cx="435.8" cy="484.9" r="0.7"/><circle cx="429.5" cy="478.8" r="0.7"/><circle cx="438.0" cy="493.5" r="0.7"/><circle cx="426.3" cy="469.7" r="0.7"/><circle cx="428.4" cy="480.3" r="0.7"/><circle cx="438.7" cy="486.5" r="0.7"/><circle cx="430.8" cy="485.5" r="0.7"/><circle cx="428.8" cy="477.2" r="0.7"/><circle cx="436.2" cy="492.1" r="0.7"/><circle cx="426.3" cy="481.3" r="0.7"/><circle cx="443.7" cy="501.6" r="0.7"/><circle cx="426.0" cy="474.3" r="0.7"/><circle cx="447.7" cy="507.3" r="0.7"/><circle cx="429.9" cy="479.6" r="0.7"/><circle cx="444.8" cy="494.8" r="0.7"/><circle cx="443.3" cy="500.2" r="0.7"/><circle cx="431.8" cy="481.8" r="0.7"/><circle cx="441.6" cy="496.5" r="0.7"/><circle cx="433.5" cy="478.2" r="0.7"/><circle cx="441.6" cy="491.1" r="0.7"/><circle cx="436.4" cy="493.2" r="0.7"/><circle cx="432.4" cy="482.1" r="0.7"/><circle cx="435.9" cy="488.3" r="0.7"/><circle cx="427.9" cy="485.2" r="0.7"/><circle cx="437.5" cy="484.9" r="0.7"/><circle cx="438.1" cy="494.5" r="0.7"/><circle cx="430.2" cy="479.0" r="0.7"/><circle cx="443.2" cy="500.3" r="0.7"/><circle cx="423.8" cy="471.4" r="0.7"/><circle cx="424.3" cy="474.0" r="0.7"/><circle cx="428.4" cy="476.0" r="0.7"/><circle cx="431.1" cy="479.8" r="0.7"/><circle cx="448.1" cy="505.7" r="0.7"/><circle cx="441.2" cy="493.0" r="0.7"/><circle cx="443.8" cy="498.7" r="0.7"/><circle cx="427.0" cy="477.4" r="0.7"/><circle cx="439.6" cy="492.9" r="0.7"/><circle cx="431.0" cy="484.3" r="0.7"/><circle cx="444.0" cy="503.7" r="0.7"/><circle cx="438.3" cy="490.7" r="0.7"/><circle cx="429.2" cy="482.1" r="0.7"/><circle cx="441.1" cy="496.0" r="0.7"/><circle cx="438.2" cy="492.2" r="0.7"/><circle cx="448.5" cy="504.0" r="0.7"/><circle cx="432.7" cy="482.4" r="0.7"/><circle cx="425.7" cy="480.8" r="0.7"/><circle cx="425.0" cy="477.9" r="0.7"/><circle cx="440.6" cy="493.5" r="0.7"/><circle cx="432.5" cy="479.8" r="0.7"/><circle cx="429.0" cy="481.1" r="0.7"/><circle cx="426.9" cy="473.5" r="0.7"/><circle cx="433.5" cy="487.2" r="0.7"/><circle cx="447.1" cy="504.0" r="0.7"/><circle cx="435.9" cy="487.2" r="0.7"/><circle cx="439.5" cy="497.9" r="0.7"/><circle cx="437.6" cy="487.7" r="0.7"/><circle cx="440.9" cy="492.1" r="0.7"/><circle cx="428.5" cy="477.5" r="0.7"/><circle cx="426.0" cy="472.2" r="0.7"/><circle cx="433.9" cy="488.1" r="0.7"/><circle cx="439.4" cy="499.2" r="0.7"/><circle cx="430.9" cy="483.8" r="0.7"/><circle cx="431.4" cy="476.7" r="0.7"/><circle cx="426.9" cy="471.1" r="0.7"/></g><g fill="#80dcdc" opacity="0.5"><circle cx="439.0" cy="500.4" r="0.6"/><circle cx="419.9" cy="496.5" r="0.6"/><circle cx="448.5" cy="509.9" r="0.6"/><circle cx="449.9" cy="516.7" r="0.6"/><circle cx="454.8" cy="515.6" r="0.6"/><circle cx="431.2" cy="497.1" r="0.6"/><circle cx="436.8" cy="505.4" r="0.6"/><circle cx="446.9" cy="511.2" r="0.6"/><circle cx="433.3" cy="502.1" r="0.6"/><circle cx="424.5" cy="492.6" r="0.6"/><circle cx="438.2" cy="506.6" r="0.6"/><circle cx="449.2" cy="520.9" r="0.6"/><circle cx="446.3" cy="519.9" r="0.6"/><circle cx="441.4" cy="505.5" r="0.6"/><circle cx="430.3" cy="504.5" r="0.6"/><circle cx="421.5" cy="493.4" r="0.6"/><circle cx="431.0" cy="492.5" r="0.6"/><circle cx="431.3" cy="504.8" r="0.6"/><circle cx="438.4" cy="509.8" r="0.6"/><circle cx="436.5" cy="508.6" r="0.6"/><circle cx="448.1" cy="516.3" r="0.6"/><circle cx="437.6" cy="511.6" r="0.6"/><circle cx="431.1" cy="500.5" r="0.6"/><circle cx="448.4" cy="517.2" r="0.6"/><circle cx="433.8" cy="498.9" r="0.6"/><circle cx="443.7" cy="512.3" r="0.6"/><circle cx="422.3" cy="502.2" r="0.6"/><circle cx="455.2" cy="525.8" r="0.6"/><circle cx="437.2" cy="508.9" r="0.6"/><circle cx="429.8" cy="503.5" r="0.6"/><circle cx="433.7" cy="499.4" r="0.6"/><circle cx="430.3" cy="498.0" r="0.6"/><circle cx="435.6" cy="505.4" r="0.6"/><circle cx="448.8" cy="517.0" r="0.6"/><circle cx="439.5" cy="507.1" r="0.6"/><circle cx="432.2" cy="503.0" r="0.6"/><circle cx="423.5" cy="495.7" r="0.6"/><circle cx="440.3" cy="513.1" r="0.6"/><circle cx="427.6" cy="500.9" r="0.6"/><circle cx="446.0" cy="516.0" r="0.6"/><circle cx="426.3" cy="491.5" r="0.6"/><circle cx="429.1" cy="499.1" r="0.6"/><circle cx="453.2" cy="514.9" r="0.6"/><circle cx="415.7" cy="496.4" r="0.6"/><circle cx="439.6" cy="511.1" r="0.6"/><circle cx="419.8" cy="493.5" r="0.6"/><circle cx="440.2" cy="499.9" r="0.6"/><circle cx="436.1" cy="503.9" r="0.6"/><circle cx="453.0" cy="515.5" r="0.6"/><circle cx="445.5" cy="526.2" r="0.6"/><circle cx="436.3" cy="498.0" r="0.6"/><circle cx="449.7" cy="516.8" r="0.6"/><circle cx="424.7" cy="493.5" r="0.6"/><circle cx="444.9" cy="511.9" r="0.6"/><circle cx="432.2" cy="503.9" r="0.6"/><circle cx="434.6" cy="508.4" r="0.6"/><circle cx="437.6" cy="502.0" r="0.6"/><circle cx="444.9" cy="512.7" r="0.6"/><circle cx="450.1" cy="518.0" r="0.6"/><circle cx="443.7" cy="507.9" r="0.6"/><circle cx="434.6" cy="501.7" r="0.6"/><circle cx="426.5" cy="499.1" r="0.6"/><circle cx="429.4" cy="490.5" r="0.6"/><circle cx="428.7" cy="503.2" r="0.6"/><circle cx="442.9" cy="514.0" r="0.6"/><circle cx="449.3" cy="516.3" r="0.6"/><circle cx="435.6" cy="509.8" r="0.6"/><circle cx="430.6" cy="504.9" r="0.6"/><circle cx="435.4" cy="508.9" r="0.6"/><circle cx="433.4" cy="512.5" r="0.6"/></g><g stroke="#777" stroke-width="0.6" fill="none"><path d="M411.7,461 V493"/><path d="M390.6,469.7 V501"/><path d="M425.8,468.6 V474"/><path d="M440,481.7 L433,489"/></g><rect x="395.8" y="456.2" width="7.9" height="4.6" fill="#cf4c4c"/><text x="404.5" y="459.8" font-size="3.4" fill="#333">generation</text><rect x="386.2" y="465.0" width="6.4" height="4.6" fill="#cf4c4c"/><text x="393.4" y="468.6" font-size="3.4" fill="#333">generation</text><rect x="423.7" y="464.2" width="8.0" height="4.6" fill="#cf4c4c"/><text x="432.5" y="467.8" font-size="3.4" fill="#333">generation</text><rect x="438.9" y="477.4" width="8.7" height="4.6" fill="#cf4c4c"/><text x="448.4" y="481.0" font-size="3.4" fill="#333">generation</text><path d="M386.5,520 V531 H393" stroke="#888" stroke-width="0.5" fill="none"/><text x="392" y="533.5" font-size="2.8" fill="#777">UMAP1</text><rect x="431" y="524" width="24" height="1.8" fill="#b060e0"/><rect x="431" y="524" width="10" height="1.8" fill="#60d0d8"/><text x="443" y="531" font-size="2.8" fill="#666" text-anchor="middle">Generation</text></g><text class="sub" x="354" y="554.3" font-size="11.6" filter="url(#b3)" textLength="85.5" lengthAdjust="spacingAndGlyphs">Genetic Algorithm</text>
<g filter="url(#b6)"><path d="M487.8,459.4 C493,469 498,478 503.5,485.3 C509,493 515,500.5 522.4,506.5 C529,512 536,516.5 542.4,519.5 C550,522.5 558,524 566,524.2 L566,537 H484.6 V456 Z" fill="#b9dda6"/><g fill="#f6f1dc" opacity="0.5"><path d="M487.8,459.4 V467.0 H492.5 Z"/><path d="M492.5,467.0 V475.0 H496.5 Z"/><path d="M496.5,475.0 V485.3 H503.5 Z"/><path d="M503.5,485.3 V494.0 H510.0 Z"/><path d="M510.0,494.0 V501.5 H517.0 Z"/><path d="M517.0,501.5 V508.7 H525.5 Z"/><path d="M525.5,508.7 V515.5 H535.0 Z"/><path d="M535.0,515.5 V520.5 H546.0 Z"/><path d="M546.0,520.5 V523.3 H557.0 Z"/><path d="M557.0,523.3 V524.2 H566.0 Z"/></g><path d="M487.8,459.4 C493,469 498,478 503.5,485.3 C509,493 515,500.5 522.4,506.5 C529,512 536,516.5 542.4,519.5 C550,522.5 558,524 566,524.2" fill="none" stroke="#e63222" stroke-width="1.2"/><g fill="#e88848"><circle cx="487.8" cy="459.4" r="1.1"/><circle cx="492.5" cy="467.0" r="1.1"/><circle cx="496.5" cy="475.0" r="1.1"/><circle cx="503.5" cy="485.3" r="1.1"/><circle cx="510.0" cy="494.0" r="1.1"/><circle cx="517.0" cy="501.5" r="1.1"/><circle cx="525.5" cy="508.7" r="1.1"/><circle cx="535.0" cy="515.5" r="1.1"/><circle cx="546.0" cy="520.5" r="1.1"/><circle cx="557.0" cy="523.3" r="1.1"/></g><path d="M484.3,451.5 V537.2 H574.6" fill="none" stroke="#555" stroke-width="1.1"/><path d="M482.9,453 L484.3,449.8 L485.7,453Z M573,535.8 L576.2,537.2 L573,538.6Z" fill="#555"/><g fill="#5b7cc4"><circle cx="520.0" cy="460.1" r="1.5"/><circle cx="507.1" cy="470.5" r="1.5"/><circle cx="537.2" cy="468.4" r="1.5"/><circle cx="548.7" cy="464.1" r="1.5"/><circle cx="562.4" cy="471.2" r="1.5"/><circle cx="552.5" cy="477.6" r="1.5"/><circle cx="521.7" cy="484.6" r="1.5"/><circle cx="535.3" cy="484.6" r="1.5"/><circle cx="558.4" cy="489.3" r="1.5"/><circle cx="534.9" cy="499.0" r="1.5"/><circle cx="561.2" cy="504.9" r="1.5"/><circle cx="551.3" cy="512.4" r="1.5"/></g><path d="M567.5,520.9 H579 V519.2 L584,522.5 L579,525.8 V524.1 H567.5 Z" fill="#e02828"/><text x="585.2" y="521.8" font-size="8" fill="#7a7a7a" textLength="46.5" lengthAdjust="spacingAndGlyphs">Pareto Front</text></g><text class="sub" x="496.5" y="552" font-size="11.6" filter="url(#b3)" textLength="133" lengthAdjust="spacingAndGlyphs">Multi-objective Optimization</text>
<defs><linearGradient id="arm" x1="0" y1="0" x2="1" y2="0"><stop offset="0" stop-color="#9a9a9a"/><stop offset="0.4" stop-color="#e8e8e8"/><stop offset="1" stop-color="#a8a8a8"/></linearGradient><linearGradient id="base" x1="0" y1="0" x2="1" y2="0"><stop offset="0" stop-color="#8a8a8a"/><stop offset="0.35" stop-color="#dcdcdc"/><stop offset="1" stop-color="#888"/></linearGradient></defs>
<g filter="url(#b3)"><path d="M888,413.7 H902.6 V395.9 L918.7,433 L902.6,470.2 V452.4 H888 Z" fill="#dbe2f3"/><rect x="708.6" y="335.5" width="180" height="208.4" fill="#d4dcf0"/></g><rect class="dot" x="703" y="328.2" width="345" height="226.4" rx="16" pathLength="1000" filter="url(#b3)" style="stroke-dasharray:0.3145 4.4025"/><g filter="url(#b6)"><path d="M710.3,365.9 H722.8 V361.9 L731.5,370 L722.8,377.9 V374.1 H710.3 Z" fill="#a6a6a6" stroke="#909090" stroke-width="0.6"/><path d="M858.1,365.9 H871.6 V361.9 L879.8,370 L871.6,377.9 V374.1 H858.1 Z" fill="#a6a6a6" stroke="#909090" stroke-width="0.6"/><ellipse cx="746.5" cy="370.3" rx="14.0" ry="33.3" fill="#a9a9a9" stroke="#8a8a8a" stroke-width="0.9"/><ellipse cx="755.5" cy="370.3" rx="14.0" ry="33.3" fill="#a9a9a9" stroke="#8a8a8a" stroke-width="0.9"/><ellipse cx="764.5" cy="370.3" rx="14.0" ry="33.3" fill="#a9a9a9" stroke="#8a8a8a" stroke-width="0.9"/><ellipse cx="773.0" cy="370.3" rx="14.0" ry="33.3" fill="#a9a9a9" stroke="#8a8a8a" stroke-width="0.9"/><ellipse cx="818.5" cy="370.3" rx="14.0" ry="33.3" fill="#a9a9a9" stroke="#8a8a8a" stroke-width="0.9"/><ellipse cx="826.5" cy="370.3" rx="14.0" ry="33.3" fill="#a9a9a9" stroke="#8a8a8a" stroke-width="0.9"/><ellipse cx="834.5" cy="370.3" rx="14.0" ry="33.3" fill="#a9a9a9" stroke="#8a8a8a" stroke-width="0.9"/><ellipse cx="843.4" cy="370.3" rx="14.0" ry="33.3" fill="#a9a9a9" stroke="#8a8a8a" stroke-width="0.9"/><g fill="#111"><circle cx="781.6" cy="370" r="2.5"/><circle cx="789.2" cy="370" r="2.5"/><circle cx="796.7" cy="370" r="2.5"/></g></g><g filter="url(#b3)" font-size="20" fill="#222" stroke="#222" stroke-width="0.3"><text x="777.4" y="428.3" font-size="19.6">Flow</text><text x="715.6" y="531" font-size="20.2">Mobile</text><text x="807" y="531" font-size="20.1">Desktop</text><text x="954.4" y="536.7" font-size="19.8">Result</text></g>
<g filter="url(#b6)" stroke="#4c4c4c" stroke-width="1.15" fill="#efefef" stroke-linejoin="round"><path d="M735,444 V438 M760.8,444 V438" fill="none"/><circle cx="735" cy="436.6" r="1.6" fill="#dde4f4"/><circle cx="760.8" cy="436.6" r="1.6" fill="#dde4f4"/><path d="M734.5,448.5 A4,6 0 0 0 734.5,460 Z" fill="#ccc"/><path d="M761,448.5 A4,6 0 0 1 761,460 Z" fill="#ccc"/><rect x="734.5" y="443.6" width="26.3" height="20.1" rx="5"/><circle cx="742.6" cy="453.9" r="3.2" fill="#fff" stroke-width="1.3"/><circle cx="753.1" cy="453.9" r="3.2" fill="#fff" stroke-width="1.3"/><circle cx="742.6" cy="453.9" r="1.2" fill="#999" stroke-width="0.8"/><circle cx="753.1" cy="453.9" r="1.2" fill="#999" stroke-width="0.8"/><path d="M745.5,459.5 Q747.8,461.5 750,459.5" fill="none"/><rect x="743" y="463.7" width="9.5" height="3.5" fill="#ccc"/><path d="M732.8,469 Q727,467.5 725.8,474 V483.4 H731 V474 Z M763.4,469 Q769,467.5 769.5,474 V483.4 H765 V474 Z" fill="#ddd"/><rect x="732.8" y="467" width="30.6" height="28.4" rx="3"/><rect x="737" y="470.5" width="22" height="11" rx="1.5" fill="#f8f8f8" stroke-width="0.6"/><path d="M736,484 H760 M742,484 V495 M754,484 V495" fill="none" stroke-width="0.6"/><rect x="725.8" y="496.5" width="44.2" height="13.5" rx="6.7"/><rect x="729" y="499.3" width="37.8" height="8" rx="4" fill="#f8f8f8" stroke-width="0.6"/><circle cx="735" cy="503.3" r="1" fill="#666"/><circle cx="748" cy="503.3" r="1" fill="#666"/><circle cx="761" cy="503.3" r="1" fill="#666"/></g>
<g filter="url(#b6)" stroke="#555" stroke-width="0.8" stroke-linejoin="round"><ellipse cx="826.8" cy="504" rx="16.6" ry="4" fill="#8c8c8c"/><path d="M810.2,500 V504 A16.6,4 0 0 0 843.4,504 V500 Z" fill="url(#base)"/><ellipse cx="826.8" cy="500" rx="16.6" ry="4" fill="#cfcfcf"/><path d="M814.5,495 V499.5 A12.3,3 0 0 0 839.1,499.5 V495 Z" fill="url(#base)"/><ellipse cx="826.8" cy="495" rx="12.3" ry="3" fill="#d8d8d8"/><path d="M818.5,489 V494.5 A8.3,2.2 0 0 0 835.1,494.5 V489 Z" fill="url(#base)"/><ellipse cx="826.8" cy="489" rx="8.3" ry="2.2" fill="#555"/><path d="M820.5,481 L820.8,460 L829.5,460.5 L831.5,481.5 Z" fill="url(#arm)"/><circle cx="825.7" cy="481.5" r="7.2" fill="#c4c4c4"/><circle cx="825.7" cy="481.5" r="3.6" fill="#777"/><circle cx="825.7" cy="481.5" r="1.3" fill="#b05050" stroke="none"/><path d="M820.8,458 L830.8,441 L838.8,446 L829.5,463 Z" fill="url(#arm)"/><circle cx="825.2" cy="460.6" r="5.2" fill="#cdcdcd"/><circle cx="825.2" cy="460.6" r="2.4" fill="#666"/><path d="M832,438.5 L838.5,437.5 L858.8,448.2 L855.8,455.5 L834,450 Z" fill="url(#arm)"/><path d="M852.6,445 L858.8,448.2 L855.8,455.5 L849.8,453.6 Z" fill="#444"/><circle cx="835" cy="444.3" r="6.2" fill="#cdcdcd"/><circle cx="835" cy="444.3" r="2.7" fill="#444"/><path d="M830,441 Q836,435 844,439.5" fill="none" stroke="#777" stroke-width="0.6"/><path d="M855.5,453 L861,455 L863.5,460.5 L860,461.5 L857,458 Z" fill="#8090a8"/><path d="M858.5,460.5 V465.5 M861,461 V466.5 M863.3,460 V464.5" fill="none" stroke="#8898b0" stroke-width="1"/></g><g filter="url(#b6)"><rect x="849.9" y="472.3" width="4.2" height="30.8" rx="2.1" fill="#f6f6f8" stroke="#b0b0b8" stroke-width="0.5"/><rect x="854.9" y="472.3" width="4.2" height="30.8" rx="2.1" fill="#f6f6f8" stroke="#b0b0b8" stroke-width="0.5"/><path d="M855.2,482.9 H859.0 V501 A1.9,1.9 0 0 1 855.2,501 Z" fill="#f5a623"/><rect x="859.9" y="472.3" width="4.2" height="30.8" rx="2.1" fill="#f6f6f8" stroke="#b0b0b8" stroke-width="0.5"/><path d="M860.2,482.9 H864.0 V501 A1.9,1.9 0 0 1 860.2,501 Z" fill="#c23a9c"/><rect x="866.1" y="472.3" width="4.2" height="30.8" rx="2.1" fill="#f6f6f8" stroke="#b0b0b8" stroke-width="0.5"/><path d="M866.4,482.9 H870.2 V501 A1.9,1.9 0 0 1 866.4,501 Z" fill="#22b2d4"/><rect x="871.4" y="472.3" width="4.2" height="30.8" rx="2.1" fill="#f6f6f8" stroke="#b0b0b8" stroke-width="0.5"/><path d="M871.7,482.9 H875.5 V501 A1.9,1.9 0 0 1 871.7,501 Z" fill="#e8792a"/><path d="M847,490 H878.8 M847,504.3 H878.8" stroke="#808088" stroke-width="1.3" fill="none" opacity="0.85"/><path d="M847.7,490 V505 M878.1,490 V505" stroke="#808088" stroke-width="1" fill="none" opacity="0.85"/></g>
<g filter="url(#b6)" fill="none"><rect x="926.8" y="345.2" width="113.6" height="52.6" fill="#fff" stroke="#b8b8b8" stroke-width="0.9"/><rect x="926.8" y="401" width="113.6" height="56" fill="#fff" stroke="#b8b8b8" stroke-width="0.9"/><rect x="926.8" y="460.4" width="113.6" height="52.8" fill="#fff" stroke="#b8b8b8" stroke-width="0.9"/><path d="M929.5,394.7 H931.3 L932,381.4 L932.8,394.5 H956.8 L957.9,360.4 L959,394.3 H962.8 L964,351.5 L965.2,394.3 H977.3 L978,391.8 L978.7,394.4 H994.5 L995.4,386.6 L996.3,394.4 H1024.8 L1025.7,390.6 L1026.6,394.5 H1038" stroke="#555" stroke-width="0.9"/><polyline points="927.5,447.5 928.5,446.1 929.5,444.3 930.5,441.9 931.5,438.5 932.5,433.9 933.5,427.2 934.5,418.1 935.5,406.8 936.5,402.0 937.5,402.0 938.5,402.0 939.5,409.1 940.5,420.1 941.5,428.7 942.5,434.9 943.5,439.3 944.5,442.4 945.5,444.7 946.5,446.4 947.5,447.7 948.5,448.7 949.5,449.5 950.5,450.1 951.5,450.6 952.5,451.0 953.5,451.4 954.5,451.6 955.5,451.9 956.5,452.1 957.5,452.3 958.5,452.4 959.5,452.6 960.5,452.7 961.5,452.8 962.5,452.9 963.5,453.0 964.5,453.0 965.5,453.1 966.5,453.2 967.5,453.2 968.5,453.3 969.5,453.3 970.5,453.4 971.5,453.4 972.5,453.4 973.5,453.5 974.5,453.5 975.5,453.5 976.5,453.5 977.5,453.6 978.5,453.6 979.5,453.6 980.5,453.6 981.5,453.6 982.5,453.6 983.5,453.7 984.5,453.7 985.5,453.7 986.5,453.7 987.5,453.7 988.5,453.7 989.5,453.7 990.5,453.7 991.5,453.8 992.5,453.8 993.5,453.8 994.5,453.8 995.5,453.8 996.5,453.8 997.5,453.8 998.5,453.8 999.5,453.8 1000.5,453.8 1001.5,453.8 1002.5,453.8 1003.5,453.8 1004.5,453.8 1005.5,453.8 1006.5,453.9 1007.5,453.9 1008.5,453.9 1009.5,453.9 1010.5,453.9 1011.5,453.9 1012.5,453.9 1013.5,453.9 1014.5,453.9 1015.5,453.9 1016.5,453.9 1017.5,453.9 1018.5,453.9 1019.5,453.9 1020.5,453.9 1021.5,453.9 1022.5,453.9 1023.5,453.9 1024.5,453.9 1025.5,453.9 1026.5,453.9 1027.5,453.9 1028.5,453.9 1029.5,453.9 1030.5,453.9 1031.5,453.9 1032.5,453.9 1033.5,453.9 1034.5,453.9 1035.5,453.9 1036.5,453.9 1037.5,453.9 1038.5,453.9 1039.5,453.9 1040.5,453.9 1041.5,453.9" stroke="#b8d8ec" stroke-width="0.9"/><polyline points="927.5,453.2 928.5,453.1 929.5,453.1 930.5,453.0 931.5,452.9 932.5,452.8 933.5,452.8 934.5,452.6 935.5,452.5 936.5,452.4 937.5,452.2 938.5,452.1 939.5,451.9 940.5,451.6 941.5,451.4 942.5,451.0 943.5,450.7 944.5,450.2 945.5,449.6 946.5,449.0 947.5,448.1 948.5,447.0 949.5,445.6 950.5,443.8 951.5,441.3 952.5,438.0 953.5,433.4 954.5,427.0 955.5,418.4 956.5,407.7 957.5,402.0 958.5,402.0 959.5,402.0 960.5,405.5 961.5,416.4 962.5,425.5 963.5,432.3 964.5,437.2 965.5,440.7 966.5,443.3 967.5,445.3 968.5,446.8 969.5,447.9 970.5,448.8 971.5,449.5 972.5,450.1 973.5,450.6 974.5,451.0 975.5,451.3 976.5,451.6 977.5,451.8 978.5,452.0 979.5,452.2 980.5,452.4 981.5,452.5 982.5,452.6 983.5,452.7 984.5,452.8 985.5,452.9 986.5,453.0 987.5,453.1 988.5,453.1 989.5,453.2 990.5,453.2 991.5,453.3 992.5,453.3 993.5,453.3 994.5,453.4 995.5,453.4 996.5,453.4 997.5,453.5 998.5,453.5 999.5,453.5 1000.5,453.5 1001.5,453.6 1002.5,453.6 1003.5,453.6 1004.5,453.6 1005.5,453.6 1006.5,453.7 1007.5,453.7 1008.5,453.7 1009.5,453.7 1010.5,453.7 1011.5,453.7 1012.5,453.7 1013.5,453.7 1014.5,453.7 1015.5,453.8 1016.5,453.8 1017.5,453.8 1018.5,453.8 1019.5,453.8 1020.5,453.8 1021.5,453.8 1022.5,453.8 1023.5,453.8 1024.5,453.8 1025.5,453.8 1026.5,453.8 1027.5,453.8 1028.5,453.8 1029.5,453.8 1030.5,453.8 1031.5,453.8 1032.5,453.9 1033.5,453.9 1034.5,453.9 1035.5,453.9 1036.5,453.9 1037.5,453.9 1038.5,453.9 1039.5,453.9 1040.5,453.9 1041.5,453.9" stroke="#c8d4ec" stroke-width="0.9"/><polyline points="927.5,453.6 928.5,453.6 929.5,453.6 930.5,453.6 931.5,453.6 932.5,453.6 933.5,453.5 934.5,453.5 935.5,453.5 936.5,453.5 937.5,453.4 938.5,453.4 939.5,453.4 940.5,453.3 941.5,453.3 942.5,453.2 943.5,453.2 944.5,453.1 945.5,453.0 946.5,453.0 947.5,452.9 948.5,452.8 949.5,452.7 950.5,452.6 951.5,452.4 952.5,452.3 953.5,452.1 954.5,451.9 955.5,451.6 956.5,451.4 957.5,451.0 958.5,450.6 959.5,450.1 960.5,449.5 961.5,448.7 962.5,447.7 963.5,446.4 964.5,444.7 965.5,442.4 966.5,439.3 967.5,434.9 968.5,428.7 969.5,420.1 970.5,409.1 971.5,402.0 972.5,402.0 973.5,402.0 974.5,406.8 975.5,418.1 976.5,427.2 977.5,433.9 978.5,438.5 979.5,441.9 980.5,444.3 981.5,446.1 982.5,447.5 983.5,448.5 984.5,449.3 985.5,450.0 986.5,450.5 987.5,450.9 988.5,451.3 989.5,451.6 990.5,451.8 991.5,452.1 992.5,452.2 993.5,452.4 994.5,452.5 995.5,452.7 996.5,452.8 997.5,452.9 998.5,452.9 999.5,453.0 1000.5,453.1 1001.5,453.2 1002.5,453.2 1003.5,453.3 1004.5,453.3 1005.5,453.3 1006.5,453.4 1007.5,453.4 1008.5,453.4 1009.5,453.5 1010.5,453.5 1011.5,453.5 1012.5,453.6 1013.5,453.6 1014.5,453.6 1015.5,453.6 1016.5,453.6 1017.5,453.6 1018.5,453.7 1019.5,453.7 1020.5,453.7 1021.5,453.7 1022.5,453.7 1023.5,453.7 1024.5,453.7 1025.5,453.7 1026.5,453.8 1027.5,453.8 1028.5,453.8 1029.5,453.8 1030.5,453.8 1031.5,453.8 1032.5,453.8 1033.5,453.8 1034.5,453.8 1035.5,453.8 1036.5,453.8 1037.5,453.8 1038.5,453.8 1039.5,453.8 1040.5,453.8 1041.5,453.8" stroke="#c4e4c8" stroke-width="0.9"/><polyline points="927.5,453.7 928.5,453.7 929.5,453.7 930.5,453.7 931.5,453.7 932.5,453.6 933.5,453.6 934.5,453.6 935.5,453.6 936.5,453.6 937.5,453.5 938.5,453.5 939.5,453.5 940.5,453.5 941.5,453.4 942.5,453.4 943.5,453.4 944.5,453.3 945.5,453.3 946.5,453.2 947.5,453.2 948.5,453.1 949.5,453.1 950.5,453.0 951.5,452.9 952.5,452.8 953.5,452.7 954.5,452.6 955.5,452.5 956.5,452.4 957.5,452.2 958.5,452.0 959.5,451.8 960.5,451.5 961.5,451.2 962.5,450.9 963.5,450.4 964.5,449.9 965.5,449.2 966.5,448.3 967.5,447.2 968.5,445.8 969.5,443.9 970.5,441.3 971.5,437.7 972.5,432.7 973.5,425.6 974.5,416.0 975.5,404.4 976.5,402.0 977.5,402.0 978.5,402.0 979.5,411.5 980.5,422.1 981.5,430.1 982.5,435.9 983.5,440.0 984.5,442.9 985.5,445.1 986.5,446.7 987.5,447.9 988.5,448.9 989.5,449.6 990.5,450.2 991.5,450.7 992.5,451.1 993.5,451.4 994.5,451.7 995.5,451.9 996.5,452.1 997.5,452.3 998.5,452.5 999.5,452.6 1000.5,452.7 1001.5,452.8 1002.5,452.9 1003.5,453.0 1004.5,453.1 1005.5,453.1 1006.5,453.2 1007.5,453.2 1008.5,453.3 1009.5,453.3 1010.5,453.4 1011.5,453.4 1012.5,453.4 1013.5,453.5 1014.5,453.5 1015.5,453.5 1016.5,453.5 1017.5,453.6 1018.5,453.6 1019.5,453.6 1020.5,453.6 1021.5,453.6 1022.5,453.7 1023.5,453.7 1024.5,453.7 1025.5,453.7 1026.5,453.7 1027.5,453.7 1028.5,453.7 1029.5,453.7 1030.5,453.7 1031.5,453.8 1032.5,453.8 1033.5,453.8 1034.5,453.8 1035.5,453.8 1036.5,453.8 1037.5,453.8 1038.5,453.8 1039.5,453.8 1040.5,453.8 1041.5,453.8" stroke="#ece8b0" stroke-width="0.9"/><polyline points="927.5,453.8 928.5,453.8 929.5,453.8 930.5,453.8 931.5,453.8 932.5,453.8 933.5,453.8 934.5,453.8 935.5,453.8 936.5,453.8 937.5,453.8 938.5,453.8 939.5,453.8 940.5,453.7 941.5,453.7 942.5,453.7 943.5,453.7 944.5,453.7 945.5,453.7 946.5,453.7 947.5,453.7 948.5,453.7 949.5,453.6 950.5,453.6 951.5,453.6 952.5,453.6 953.5,453.6 954.5,453.5 955.5,453.5 956.5,453.5 957.5,453.5 958.5,453.4 959.5,453.4 960.5,453.4 961.5,453.4 962.5,453.3 963.5,453.3 964.5,453.2 965.5,453.2 966.5,453.1 967.5,453.1 968.5,453.0 969.5,452.9 970.5,452.8 971.5,452.7 972.5,452.6 973.5,452.5 974.5,452.4 975.5,452.2 976.5,452.1 977.5,451.9 978.5,451.6 979.5,451.3 980.5,451.0 981.5,450.6 982.5,450.2 983.5,449.6 984.5,448.9 985.5,448.0 986.5,446.9 987.5,445.4 988.5,443.6 989.5,441.0 990.5,437.6 991.5,432.8 992.5,426.3 993.5,417.4 994.5,406.6 995.5,402.0 996.5,402.0 997.5,402.0 998.5,406.6 999.5,417.4 1000.5,426.3 1001.5,432.8 1002.5,437.6 1003.5,441.0 1004.5,443.6 1005.5,445.4 1006.5,446.9 1007.5,448.0 1008.5,448.9 1009.5,449.6 1010.5,450.2 1011.5,450.6 1012.5,451.0 1013.5,451.3 1014.5,451.6 1015.5,451.9 1016.5,452.1 1017.5,452.2 1018.5,452.4 1019.5,452.5 1020.5,452.6 1021.5,452.7 1022.5,452.8 1023.5,452.9 1024.5,453.0 1025.5,453.1 1026.5,453.1 1027.5,453.2 1028.5,453.2 1029.5,453.3 1030.5,453.3 1031.5,453.4 1032.5,453.4 1033.5,453.4 1034.5,453.4 1035.5,453.5 1036.5,453.5 1037.5,453.5 1038.5,453.5 1039.5,453.6 1040.5,453.6 1041.5,453.6" stroke="#b0dcd8" stroke-width="0.9"/><polyline points="927.5,453.9 928.5,453.9 929.5,453.9 930.5,453.9 931.5,453.9 932.5,453.9 933.5,453.9 934.5,453.9 935.5,453.9 936.5,453.9 937.5,453.9 938.5,453.9 939.5,453.9 940.5,453.9 941.5,453.9 942.5,453.9 943.5,453.8 944.5,453.8 945.5,453.8 946.5,453.8 947.5,453.8 948.5,453.8 949.5,453.8 950.5,453.8 951.5,453.8 952.5,453.8 953.5,453.8 954.5,453.8 955.5,453.8 956.5,453.8 957.5,453.7 958.5,453.7 959.5,453.7 960.5,453.7 961.5,453.7 962.5,453.7 963.5,453.7 964.5,453.7 965.5,453.6 966.5,453.6 967.5,453.6 968.5,453.6 969.5,453.6 970.5,453.5 971.5,453.5 972.5,453.5 973.5,453.5 974.5,453.4 975.5,453.4 976.5,453.4 977.5,453.3 978.5,453.3 979.5,453.2 980.5,453.2 981.5,453.1 982.5,453.0 983.5,452.9 984.5,452.8 985.5,452.7 986.5,452.6 987.5,452.5 988.5,452.3 989.5,452.1 990.5,451.9 991.5,451.7 992.5,451.4 993.5,451.0 994.5,450.6 995.5,450.0 996.5,449.3 997.5,448.4 998.5,447.3 999.5,445.8 1000.5,443.8 1001.5,441.0 1002.5,437.0 1003.5,431.2 1004.5,423.0 1005.5,411.9 1006.5,402.0 1007.5,402.0 1008.5,402.0 1009.5,406.9 1010.5,418.9 1011.5,428.3 1012.5,434.9 1013.5,439.5 1014.5,442.8 1015.5,445.1 1016.5,446.8 1017.5,448.0 1018.5,449.0 1019.5,449.8 1020.5,450.4 1021.5,450.8 1022.5,451.2 1023.5,451.6 1024.5,451.8 1025.5,452.1 1026.5,452.3 1027.5,452.4 1028.5,452.6 1029.5,452.7 1030.5,452.8 1031.5,452.9 1032.5,453.0 1033.5,453.1 1034.5,453.1 1035.5,453.2 1036.5,453.2 1037.5,453.3 1038.5,453.3 1039.5,453.4 1040.5,453.4 1041.5,453.4" stroke="#c8d8ee" stroke-width="0.9"/><polyline points="927.5,453.9 928.5,453.9 929.5,453.9 930.5,453.9 931.5,453.9 932.5,453.9 933.5,453.9 934.5,453.9 935.5,453.9 936.5,453.9 937.5,453.9 938.5,453.9 939.5,453.9 940.5,453.9 941.5,453.9 942.5,453.9 943.5,453.9 944.5,453.9 945.5,453.8 946.5,453.8 947.5,453.8 948.5,453.8 949.5,453.8 950.5,453.8 951.5,453.8 952.5,453.8 953.5,453.8 954.5,453.8 955.5,453.8 956.5,453.8 957.5,453.8 958.5,453.8 959.5,453.8 960.5,453.8 961.5,453.7 962.5,453.7 963.5,453.7 964.5,453.7 965.5,453.7 966.5,453.7 967.5,453.7 968.5,453.7 969.5,453.6 970.5,453.6 971.5,453.6 972.5,453.6 973.5,453.6 974.5,453.5 975.5,453.5 976.5,453.5 977.5,453.5 978.5,453.4 979.5,453.4 980.5,453.4 981.5,453.3 982.5,453.3 983.5,453.2 984.5,453.2 985.5,453.1 986.5,453.1 987.5,453.0 988.5,452.9 989.5,452.8 990.5,452.7 991.5,452.6 992.5,452.5 993.5,452.3 994.5,452.2 995.5,452.0 996.5,451.7 997.5,451.5 998.5,451.2 999.5,450.8 1000.5,450.3 1001.5,449.7 1002.5,449.0 1003.5,448.1 1004.5,447.0 1005.5,445.4 1006.5,443.4 1007.5,440.7 1008.5,436.9 1009.5,431.5 1010.5,423.9 1011.5,413.8 1012.5,402.1 1013.5,402.0 1014.5,402.0 1015.5,402.1 1016.5,413.8 1017.5,423.9 1018.5,431.5 1019.5,436.9 1020.5,440.7 1021.5,443.4 1022.5,445.4 1023.5,447.0 1024.5,448.1 1025.5,449.0 1026.5,449.7 1027.5,450.3 1028.5,450.8 1029.5,451.2 1030.5,451.5 1031.5,451.7 1032.5,452.0 1033.5,452.2 1034.5,452.3 1035.5,452.5 1036.5,452.6 1037.5,452.7 1038.5,452.8 1039.5,452.9 1040.5,453.0 1041.5,453.1" stroke="#b4e4e4" stroke-width="0.9"/><path d="M927.5,454.2 H1040" stroke="#9ab8b8" stroke-width="1.2"/><path d="M929,508 L930,490 L931.2,472 L932.5,467 L933.5,465.5 L934.3,467.2 L935.2,465.8 L936.5,467 L938.3,469 L939.8,478 L941.4,490.6 L942.8,497 L943.9,499.3 L945.5,496 L947.7,488 L949.8,485.9 L951.5,486.8 L953,489.5 L955,496 L957,501.5 L959.5,503.5 L961.7,504.6 L967.9,506.8 L978,507 L986.6,506.1 L991,507.2 L995.9,508 L1039,508.2" stroke="#484848" stroke-width="1.3" stroke-linejoin="round"/></g>
<text x="775.3" y="583.7" font-size="19.8" fill="#222" stroke="#222" stroke-width="0.3" filter="url(#b3)">Autonomous Experiment</text>
<g filter="url(#b3)"><g fill="#8a8a8a" opacity="0.75" stroke="#fff" stroke-width="1" stroke-opacity="0.7"><path d="M641.2,533.0 C632.7,533.0 626.2,538.5 626.2,545.3 C626.2,549.1 628.2,552.5 631.5,554.7 L630.2,559.0 L635.2,556.5 C637.1,557.1 639.1,557.5 641.2,557.5 C649.7,557.5 656.2,552.1 656.2,545.3 C656.2,538.5 649.7,533.0 641.2,533.0 Z"/><path d="M655.2,547.0 C648.2,547.0 642.7,551.5 642.7,557.1 C642.7,562.7 648.2,567.2 655.2,567.2 C656.8,567.2 658.4,566.9 659.8,566.5 L664.0,568.7 L662.9,565.1 C665.8,563.3 667.7,560.4 667.7,557.1 C667.7,551.5 662.2,547.0 655.2,547.0 Z"/></g><g fill="#fff" opacity="0.9"><circle cx="636.0" cy="541.5" r="1.9"/><circle cx="646.4" cy="541.5" r="1.9"/><circle cx="651.0" cy="554.5" r="1.5"/><circle cx="659.2" cy="554.5" r="1.5"/></g><g fill="#878787" fill-opacity="0.62" stroke="#fff" stroke-width="1.1" stroke-opacity="0.55" paint-order="stroke" stroke-linejoin="round" font-family="'Liberation Sans','Noto Sans CJK SC',sans-serif" font-size="28.5" font-weight="300" letter-spacing="2.25"><text x="676.5" y="562.6">公众号</text><text x="799.5" y="562.6">新材料大数据中心</text></g><circle cx="783" cy="552.3" r="1.9" fill="#aaa"/></g>
</svg>
</body></html>
